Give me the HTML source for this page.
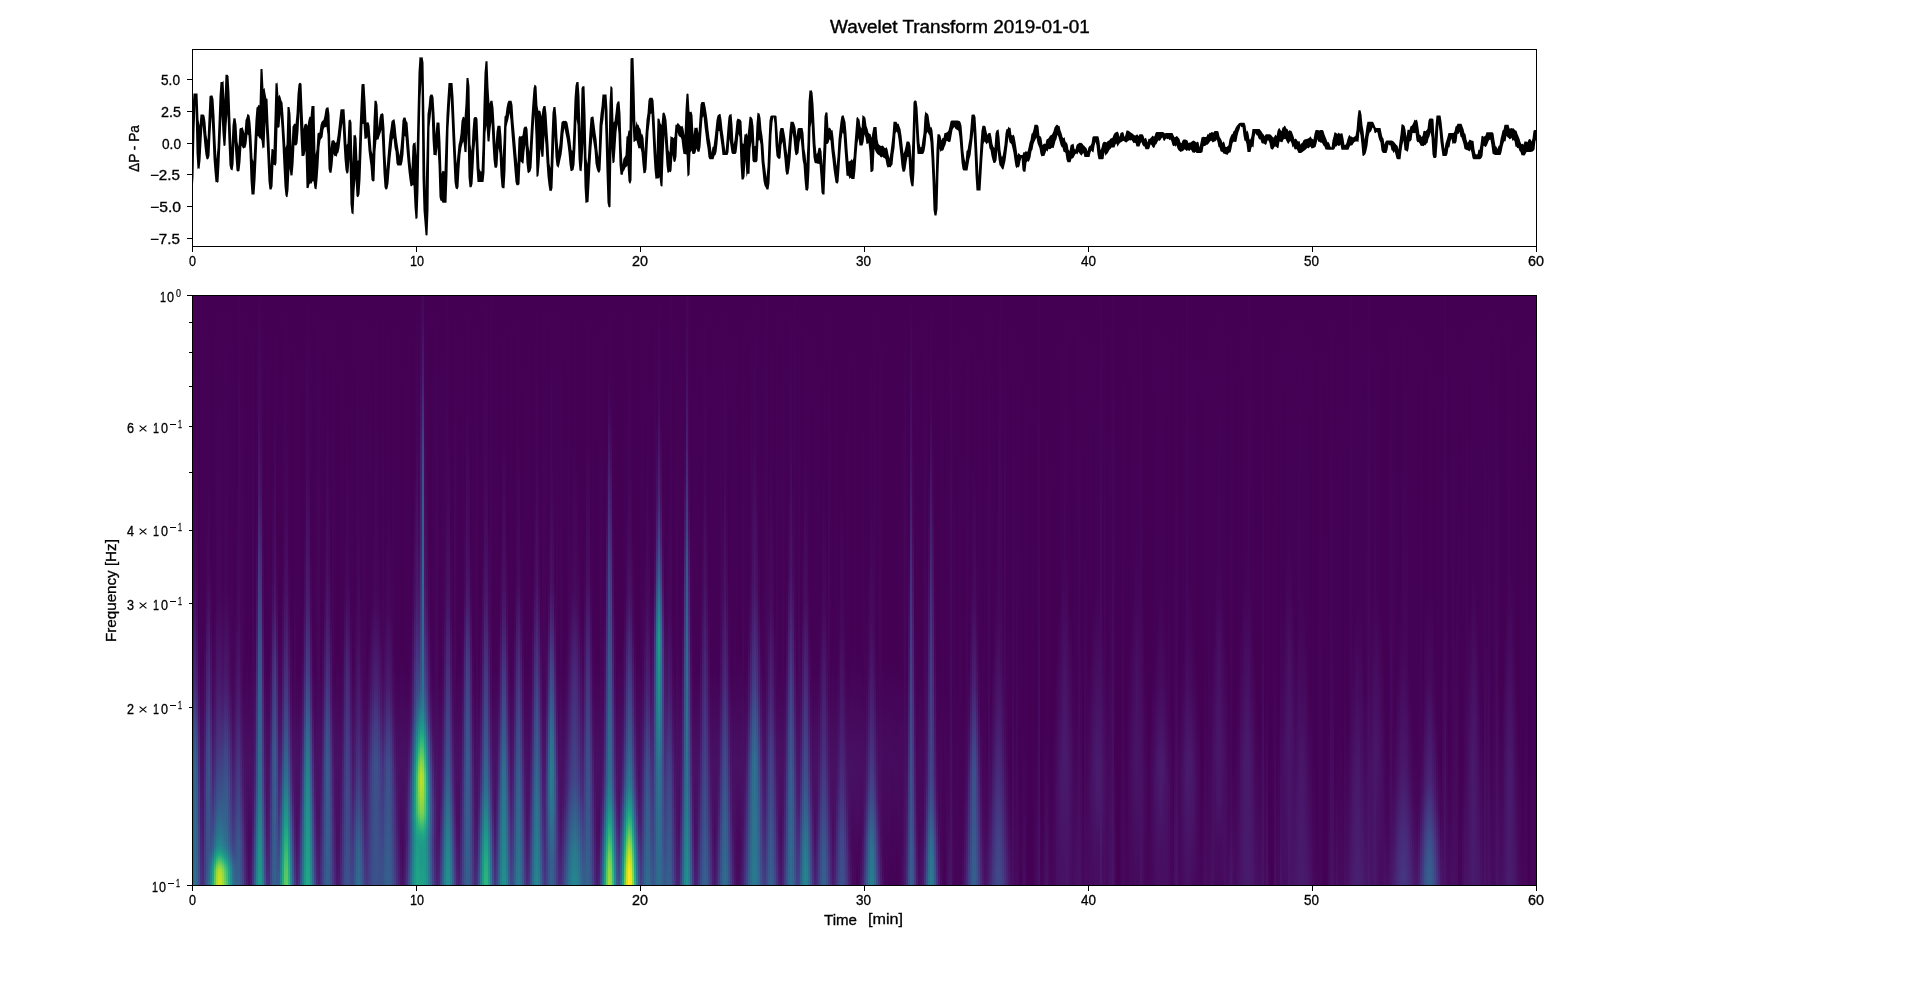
<!DOCTYPE html><html><head><meta charset="utf-8"><title>Wavelet Transform 2019-01-01</title><style>html,body{margin:0;padding:0;background:#fff;overflow:hidden;width:1920px;height:983px}svg{position:absolute;left:0;top:0;z-index:2;will-change:transform}#sc{position:absolute;left:192px;top:295px;width:1344px;height:590px;overflow:hidden;background:#440154;z-index:1}#sc i{position:absolute;top:0;width:2px;height:590px}</style></head><body><div id="sc"><i style="left:0px;background:linear-gradient(#440154 0px,#440256 257px,#46085c 327px,#481d6f 397px,#443983 436px,#3c4f8a 472px,#33628d 589px)"></i><i style="left:2px;background:linear-gradient(#440154 0px,#440256 145px,#460b5e 289px,#472a7a 385px,#3e4c8a 428px,#34608d 455px,#31688e 473px,#2e6e8e 589px)"></i><i style="left:4px;background:linear-gradient(#440256 0px,#450559 258px,#460b5e 319px,#482173 389px,#404588 438px,#375a8c 472px,#31678e 589px)"></i><i style="left:6px;background:linear-gradient(#440154 0px,#440154 311px,#450559 364px,#470e61 402px,#482677 449px,#453581 482px,#3c508b 589px)"></i><i style="left:8px;background:linear-gradient(#440154 0px,#440256 378px,#481d6f 520px,#46337f 589px)"></i><i style="left:10px;background:linear-gradient(#440154 0px,#440256 366px,#481d6f 543px,#472c7a 589px)"></i><i style="left:12px;background:linear-gradient(#440154 0px,#440256 329px,#470e61 398px,#472a7a 472px,#424186 589px)"></i><i style="left:14px;background:linear-gradient(#440154 0px,#440256 217px,#46085c 307px,#482677 397px,#414287 451px,#3e4c8a 497px,#3d4e8a 562px,#38598c 589px)"></i><i style="left:16px;background:linear-gradient(#440154 0px,#440256 176px,#46085c 287px,#472a7a 387px,#404588 437px,#3b528b 476px,#3a538b 553px,#2e6d8e 589px)"></i><i style="left:18px;background:linear-gradient(#440154 0px,#440154 266px,#46085c 337px,#481d6f 406px,#443983 465px,#3e4a89 542px,#3a548c 555px,#277e8e 576px,#24878e 589px)"></i><i style="left:20px;background:linear-gradient(#440154 0px,#440154 335px,#460b5e 409px,#472a7a 490px,#424186 527px,#375b8d 551px,#31668e 556px,#23898e 567px,#1e9d89 574px,#25ab82 589px)"></i><i style="left:22px;background:linear-gradient(#440154 0px,#440256 316px,#460b5e 377px,#48186a 423px,#46307e 478px,#3a548c 528px,#2c728e 552px,#1e9d89 564px,#26ad81 568px,#4ec36b 576px,#63cb5f 589px)"></i><i style="left:24px;background:linear-gradient(#440154 0px,#450559 299px,#48186a 390px,#46307e 452px,#39558c 512px,#2c718e 540px,#277e8e 549px,#23898e 554px,#1e9d89 559px,#21a685 561px,#35b779 565px,#6ccd5a 571px,#8bd646 575px,#95d840 577px,#a2da37 583px,#a8db34 589px)"></i><i style="left:26px;background:linear-gradient(#440154 0px,#450559 283px,#460b5e 326px,#481d6f 394px,#463480 448px,#39558c 503px,#2c728e 535px,#25838e 548px,#228b8d 552px,#1e9d89 557px,#21a685 559px,#2fb47c 562px,#5ec962 567px,#8bd646 571px,#addc30 575px,#b8de29 577px,#c5e021 582px,#cae11f 589px)"></i><i style="left:28px;background:linear-gradient(#440154 0px,#450559 298px,#48186a 389px,#463480 451px,#39558c 503px,#2c738e 537px,#25838e 549px,#1e9b8a 557px,#26ad81 561px,#3bbb75 564px,#8ed645 572px,#addc30 576px,#b8de29 579px,#c8e020 589px)"></i><i style="left:30px;background:linear-gradient(#440154 0px,#440256 291px,#470e61 365px,#481d6f 408px,#414287 466px,#33638d 523px,#277e8e 550px,#24878e 554px,#1f9f88 560px,#2ab07f 564px,#40bd72 567px,#65cb5e 571px,#84d44b 575px,#93d741 578px,#a5db36 589px)"></i><i style="left:32px;background:linear-gradient(#440154 0px,#450559 294px,#460b5e 331px,#481d6f 395px,#404588 457px,#34618d 520px,#2c718e 545px,#277f8e 554px,#1e9c89 562px,#26ad81 566px,#52c569 573px,#65cb5e 577px,#7ad151 589px)"></i><i style="left:34px;background:linear-gradient(#440154 0px,#450559 294px,#48186a 380px,#482677 412px,#404588 458px,#38588c 497px,#34608d 526px,#2e6e8e 549px,#2a788e 555px,#21908d 562px,#1fa287 567px,#3dbc74 576px,#4ec36b 589px)"></i><i style="left:36px;background:linear-gradient(#440154 0px,#440256 293px,#471164 382px,#481d6f 413px,#443983 458px,#3e4c8a 496px,#39558c 528px,#34618d 548px,#32658e 552px,#2c738e 558px,#1f968b 569px,#21a585 575px,#28ae80 589px)"></i><i style="left:38px;background:linear-gradient(#440154 0px,#440256 262px,#450559 352px,#460b5e 394px,#46307e 477px,#424186 522px,#3b518b 550px,#34608d 558px,#228b8d 575px,#1f948c 589px)"></i><i style="left:40px;background:linear-gradient(#440154 0px,#440256 261px,#450559 375px,#460b5e 419px,#481d6f 473px,#443b84 540px,#3f4889 555px,#2e6f8e 574px,#29798e 589px)"></i><i style="left:42px;background:linear-gradient(#440154 0px,#440154 300px,#46085c 379px,#471164 418px,#46307e 504px,#3e4a89 555px,#355e8d 573px,#31678e 589px)"></i><i style="left:44px;background:linear-gradient(#440154 0px,#440154 191px,#46085c 328px,#48186a 402px,#472f7d 463px,#3f4889 521px,#33638d 589px)"></i><i style="left:46px;background:linear-gradient(#440256 0px,#46085c 284px,#470e61 343px,#481d6f 410px,#443983 479px,#38588c 552px,#34618d 589px)"></i><i style="left:48px;background:linear-gradient(#440154 0px,#450559 306px,#460b5e 371px,#48186a 425px,#472f7d 489px,#3e4c8a 551px,#39568c 589px)"></i><i style="left:50px;background:linear-gradient(#440154 0px,#450559 391px,#481d6f 492px,#453581 549px,#414487 589px)"></i><i style="left:52px;background:linear-gradient(#440154 0px,#440256 380px,#471063 462px,#481467 515px,#472d7b 589px)"></i><i style="left:54px;background:linear-gradient(#440154 0px,#440154 358px,#471063 468px,#470e61 547px,#481b6d 589px)"></i><i style="left:56px;background:linear-gradient(#440154 0px,#440256 376px,#471063 467px,#46085c 542px,#470e61 589px)"></i><i style="left:58px;background:linear-gradient(#440154 0px,#440154 360px,#471063 468px,#460b5e 545px,#48186a 589px)"></i><i style="left:60px;background:linear-gradient(#440154 0px,#46085c 400px,#48186a 524px,#453781 589px)"></i><i style="left:62px;background:linear-gradient(#440154 0px,#440154 307px,#450559 368px,#482677 489px,#404588 544px,#355e8d 589px)"></i><i style="left:64px;background:linear-gradient(#440154 0px,#440256 225px,#460b5e 284px,#482979 374px,#443983 417px,#3a538b 493px,#287c8e 567px,#25848e 589px)"></i><i style="left:66px;background:linear-gradient(#440256 0px,#460b5e 125px,#48186a 194px,#453581 269px,#3a548c 350px,#34608d 388px,#2c718e 488px,#20928c 557px,#1e9c89 589px)"></i><i style="left:68px;background:linear-gradient(#440154 0px,#46085c 147px,#471164 195px,#482979 263px,#3e4c8a 348px,#375a8c 391px,#2c718e 499px,#20928c 564px,#1f998a 589px)"></i><i style="left:70px;background:linear-gradient(#440154 0px,#440256 213px,#460b5e 309px,#482878 396px,#443b84 455px,#3e4a89 493px,#277e8e 589px)"></i><i style="left:72px;background:linear-gradient(#440154 0px,#440154 323px,#450559 384px,#482173 493px,#433e85 546px,#39558c 589px)"></i><i style="left:74px;background:linear-gradient(#440154 0px,#440256 372px,#471063 464px,#471164 514px,#481d6f 552px,#46307e 589px)"></i><i style="left:76px;background:linear-gradient(#440154 0px,#440256 377px,#481d6f 536px,#472d7b 589px)"></i><i style="left:78px;background:linear-gradient(#440154 0px,#440154 264px,#450559 346px,#471164 397px,#472a7a 464px,#404688 589px)"></i><i style="left:80px;background:linear-gradient(#440154 0px,#440154 175px,#46085c 286px,#470e61 311px,#482979 374px,#3d4d8a 456px,#375b8d 589px)"></i><i style="left:82px;background:linear-gradient(#440154 0px,#440256 115px,#470e61 272px,#48186a 310px,#443983 374px,#375a8c 453px,#355e8d 472px,#34618d 589px)"></i><i style="left:84px;background:linear-gradient(#440154 0px,#440154 225px,#450559 293px,#470e61 330px,#443b84 439px,#3f4788 472px,#3b528b 559px,#375a8c 589px)"></i><i style="left:86px;background:linear-gradient(#440154 0px,#440154 329px,#450559 371px,#470e61 412px,#472f7d 511px,#404588 548px,#34618d 589px)"></i><i style="left:88px;background:linear-gradient(#440154 0px,#440154 335px,#46085c 395px,#481d6f 454px,#46307e 488px,#3a548c 529px,#2d718e 559px,#25858e 589px)"></i><i style="left:90px;background:linear-gradient(#440154 0px,#440256 277px,#470e61 354px,#482677 416px,#443b84 451px,#3a548c 485px,#1f948c 551px,#1fa287 568px,#28ae80 589px)"></i><i style="left:92px;background:linear-gradient(#440154 0px,#450559 212px,#470e61 292px,#481d6f 343px,#463480 395px,#3e4a89 432px,#2c718e 487px,#1e9d89 530px,#25ac82 544px,#3dbc74 562px,#50c46a 576px,#5ac864 589px)"></i><i style="left:94px;background:linear-gradient(#440154 0px,#440256 135px,#46085c 230px,#471164 296px,#481d6f 337px,#463480 390px,#39568c 445px,#2b748e 487px,#1e9d89 527px,#25ac82 541px,#3dbc74 558px,#54c568 574px,#60ca60 589px)"></i><i style="left:96px;background:linear-gradient(#440154 0px,#440256 260px,#46085c 315px,#471164 350px,#482677 406px,#443b84 441px,#375b8d 484px,#23898e 533px,#1e9b8a 550px,#22a884 565px,#32b67a 589px)"></i><i style="left:98px;background:linear-gradient(#440154 0px,#440154 321px,#460b5e 396px,#481c6e 441px,#453581 485px,#375b8d 527px,#26818e 568px,#218e8d 589px)"></i><i style="left:100px;background:linear-gradient(#440154 0px,#440154 360px,#450559 402px,#471365 467px,#481d6f 497px,#472f7d 524px,#404588 550px,#33638d 589px)"></i><i style="left:102px;background:linear-gradient(#440154 0px,#440256 285px,#46085c 410px,#471063 453px,#481467 517px,#481d6f 541px,#443b84 589px)"></i><i style="left:104px;background:linear-gradient(#440154 0px,#440256 379px,#471063 467px,#470e61 536px,#482475 589px)"></i><i style="left:106px;background:linear-gradient(#440154 0px,#440256 380px,#471063 465px,#471164 509px,#481d6f 549px,#46327e 589px)"></i><i style="left:108px;background:linear-gradient(#440154 0px,#440154 359px,#450559 400px,#482173 495px,#443983 541px,#3a538b 589px)"></i><i style="left:110px;background:linear-gradient(#440154 0px,#440154 303px,#46085c 366px,#481c6e 422px,#414287 485px,#375b8d 529px,#2a788e 589px)"></i><i style="left:112px;background:linear-gradient(#440154 0px,#440256 229px,#470e61 314px,#482677 379px,#443b84 414px,#3a548c 447px,#2d718e 493px,#1f988b 589px)"></i><i style="left:114px;background:linear-gradient(#440154 0px,#46085c 176px,#481d6f 300px,#414287 382px,#32648e 429px,#27808e 469px,#1f948c 518px,#1fa287 565px,#24aa83 589px)"></i><i style="left:116px;background:linear-gradient(#440154 0px,#450559 177px,#48186a 297px,#443b84 379px,#375b8d 425px,#26818e 481px,#1e9b8a 551px,#21a685 589px)"></i><i style="left:118px;background:linear-gradient(#440154 0px,#440256 261px,#460b5e 326px,#482173 389px,#3e4c8a 452px,#2e6f8e 512px,#218f8d 589px)"></i><i style="left:120px;background:linear-gradient(#440154 0px,#440154 326px,#450559 371px,#471164 415px,#472f7d 475px,#3f4889 518px,#2e6e8e 589px)"></i><i style="left:122px;background:linear-gradient(#440154 0px,#440256 379px,#460b5e 436px,#481d6f 505px,#463480 553px,#3e4989 589px)"></i><i style="left:124px;background:linear-gradient(#440154 0px,#450559 385px,#471063 456px,#471164 518px,#48186a 548px,#472a7a 589px)"></i><i style="left:126px;background:linear-gradient(#440154 0px,#46085c 396px,#471164 462px,#471164 523px,#481f70 589px)"></i><i style="left:128px;background:linear-gradient(#440154 0px,#440256 378px,#481d6f 526px,#472e7c 589px)"></i><i style="left:130px;background:linear-gradient(#440154 0px,#440256 334px,#470e61 401px,#472a7a 472px,#404588 589px)"></i><i style="left:132px;background:linear-gradient(#440154 0px,#440154 214px,#450559 287px,#460b5e 321px,#482173 390px,#443983 435px,#3f4788 465px,#39568c 589px)"></i><i style="left:134px;background:linear-gradient(#440154 0px,#440256 125px,#470e61 276px,#481d6f 332px,#463480 388px,#3e4c8a 430px,#365c8d 467px,#34608d 589px)"></i><i style="left:136px;background:linear-gradient(#440154 0px,#440256 171px,#460b5e 280px,#481467 318px,#472f7d 390px,#404588 428px,#38588c 472px,#355e8d 589px)"></i><i style="left:138px;background:linear-gradient(#440154 0px,#440154 261px,#450559 317px,#481d6f 405px,#443983 461px,#414487 504px,#3c508b 589px)"></i><i style="left:140px;background:linear-gradient(#440154 0px,#450559 381px,#460b5e 412px,#482173 479px,#443b84 589px)"></i><i style="left:142px;background:linear-gradient(#440154 0px,#440256 379px,#471063 459px,#481467 513px,#482878 589px)"></i><i style="left:144px;background:linear-gradient(#440154 0px,#440154 360px,#471063 468px,#470d60 546px,#48186a 589px)"></i><i style="left:146px;background:linear-gradient(#440154 0px,#440154 360px,#471063 467px,#470e61 544px,#481a6c 589px)"></i><i style="left:148px;background:linear-gradient(#440154 0px,#440256 379px,#48186a 521px,#482979 589px)"></i><i style="left:150px;background:linear-gradient(#440154 0px,#440256 338px,#460b5e 395px,#482677 492px,#443b84 589px)"></i><i style="left:152px;background:linear-gradient(#440154 0px,#440154 234px,#450559 305px,#453581 463px,#3e4c8a 589px)"></i><i style="left:154px;background:linear-gradient(#440154 0px,#440154 113px,#46085c 284px,#470e61 311px,#482677 371px,#443983 428px,#404688 475px,#3a538b 589px)"></i><i style="left:156px;background:linear-gradient(#440154 0px,#440154 181px,#450559 283px,#470e61 325px,#482173 376px,#443983 449px,#414487 495px,#3c508b 589px)"></i><i style="left:158px;background:linear-gradient(#440154 0px,#440256 315px,#471164 391px,#472a7a 471px,#3f4788 589px)"></i><i style="left:160px;background:linear-gradient(#440154 0px,#440256 370px,#481d6f 493px,#443983 554px,#3f4889 589px)"></i><i style="left:162px;background:linear-gradient(#440154 0px,#440154 311px,#46085c 388px,#482677 488px,#404588 540px,#375a8c 589px)"></i><i style="left:164px;background:linear-gradient(#440154 0px,#450559 301px,#460b5e 349px,#481d6f 423px,#463480 481px,#365d8d 550px,#306a8e 589px)"></i><i style="left:166px;background:linear-gradient(#440154 0px,#440256 211px,#460b5e 334px,#481d6f 411px,#463480 469px,#32648e 555px,#2e6e8e 589px)"></i><i style="left:168px;background:linear-gradient(#440154 0px,#440256 299px,#460b5e 371px,#48186a 422px,#472f7d 483px,#38588c 552px,#32648e 589px)"></i><i style="left:170px;background:linear-gradient(#440154 0px,#450457 338px,#46085c 400px,#482173 493px,#443983 536px,#3e4c8a 571px,#3b518b 589px)"></i><i style="left:172px;background:linear-gradient(#440154 0px,#450457 319px,#46085c 413px,#481d6f 516px,#433d84 589px)"></i><i style="left:174px;background:linear-gradient(#440154 0px,#440256 373px,#460b5e 422px,#482173 498px,#453781 589px)"></i><i style="left:176px;background:linear-gradient(#440154 0px,#440256 345px,#460b5e 398px,#472a7a 472px,#433e85 589px)"></i><i style="left:178px;background:linear-gradient(#440154 0px,#440256 312px,#471164 388px,#472a7a 437px,#433d84 480px,#3f4788 589px)"></i><i style="left:180px;background:linear-gradient(#440154 0px,#440154 227px,#450559 309px,#481d6f 394px,#443983 438px,#3f4889 469px,#3c4f8a 589px)"></i><i style="left:182px;background:linear-gradient(#440154 0px,#450457 237px,#46085c 307px,#482173 388px,#443b84 429px,#3c508b 467px,#3b528b 589px)"></i><i style="left:184px;background:linear-gradient(#440154 0px,#450559 291px,#460b5e 322px,#482173 388px,#443b84 429px,#3c508b 467px,#3a538b 589px)"></i><i style="left:186px;background:linear-gradient(#440154 0px,#440154 227px,#450559 309px,#481d6f 394px,#443983 438px,#3f4889 469px,#3b518b 589px)"></i><i style="left:188px;background:linear-gradient(#440154 0px,#440154 289px,#450559 336px,#48186a 405px,#443983 465px,#3c508b 589px)"></i><i style="left:190px;background:linear-gradient(#440154 0px,#450457 297px,#46085c 372px,#481467 413px,#453581 475px,#3a538b 589px)"></i><i style="left:192px;background:linear-gradient(#440154 0px,#440154 252px,#450559 331px,#481467 396px,#443b84 463px,#3e4c8a 513px,#375b8d 589px)"></i><i style="left:194px;background:linear-gradient(#440154 0px,#440256 238px,#46085c 320px,#481c6e 394px,#443983 437px,#3d4e8a 473px,#34608d 589px)"></i><i style="left:196px;background:linear-gradient(#440154 0px,#440256 212px,#46085c 313px,#481d6f 393px,#433e85 440px,#3b528b 479px,#34618d 589px)"></i><i style="left:198px;background:linear-gradient(#440154 0px,#440154 235px,#450559 317px,#48186a 396px,#46307e 435px,#404588 470px,#375b8d 589px)"></i><i style="left:200px;background:linear-gradient(#440154 0px,#450457 324px,#46085c 371px,#470e61 398px,#453581 478px,#3c508b 589px)"></i><i style="left:202px;background:linear-gradient(#440154 0px,#440256 370px,#460b5e 418px,#482677 493px,#424086 589px)"></i><i style="left:204px;background:linear-gradient(#440154 0px,#440256 379px,#481d6f 527px,#46307e 589px)"></i><i style="left:206px;background:linear-gradient(#440154 0px,#440256 380px,#471063 465px,#471164 529px,#482173 589px)"></i><i style="left:208px;background:linear-gradient(#440154 0px,#440154 360px,#471063 468px,#460b5e 547px,#481668 589px)"></i><i style="left:210px;background:linear-gradient(#440154 0px,#440154 360px,#471063 468px,#460a5d 559px,#471164 589px)"></i><i style="left:212px;background:linear-gradient(#440154 0px,#440256 377px,#471063 465px,#471164 547px,#481f70 589px)"></i><i style="left:214px;background:linear-gradient(#440154 0px,#440256 380px,#470e61 458px,#481d6f 519px,#481d6f 540px,#46327e 589px)"></i><i style="left:216px;background:linear-gradient(#440154 0px,#440256 379px,#470e61 439px,#472a7a 495px,#463480 519px,#453581 543px,#3d4d8a 589px)"></i><i style="left:218px;background:linear-gradient(#440154 0px,#440154 325px,#450559 370px,#470e61 408px,#48186a 430px,#482979 454px,#404588 487px,#3a548c 518px,#39568c 549px,#2f6b8e 589px)"></i><i style="left:220px;background:linear-gradient(#440154 0px,#440154 251px,#46085c 325px,#48186a 380px,#472a7a 418px,#3e4c8a 453px,#306a8e 482px,#2d718e 494px,#29798e 519px,#2b748e 546px,#24868e 589px)"></i><i style="left:222px;background:linear-gradient(#440154 0px,#440256 175px,#471164 300px,#482677 358px,#424186 409px,#32648e 442px,#228d8d 474px,#1f998a 490px,#1e9d89 519px,#20928c 533px,#218e8d 548px,#1e9b8a 589px)"></i><i style="left:224px;background:linear-gradient(#440154 0px,#450559 144px,#48186a 293px,#472f7d 350px,#3e4a89 397px,#2f6b8e 426px,#1e9d89 457px,#25ac82 467px,#40bd72 483px,#44bf70 502px,#3bbb75 517px,#25ac82 530px,#1e9c89 545px,#21a585 589px)"></i><i style="left:226px;background:linear-gradient(#440154 0px,#450559 193px,#470e61 263px,#481d6f 319px,#46307e 357px,#3e4a89 392px,#39558c 401px,#23898e 432px,#1fa287 444px,#38b977 457px,#73d056 473px,#84d44b 479px,#8bd646 484px,#8bd646 492px,#7fd34e 503px,#63cb5f 518px,#31b57b 531px,#23a983 537px,#1f9f88 544px,#1e9c89 552px,#21a585 589px)"></i><i style="left:228px;background:linear-gradient(#440256 0px,#46085c 79px,#481a6c 163px,#482173 242px,#414287 340px,#39568c 387px,#2c718e 410px,#1e9c89 434px,#23a983 440px,#35b779 447px,#69cd5b 461px,#86d549 467px,#a8db34 476px,#b5de2b 481px,#b8de29 488px,#a8db34 500px,#7fd34e 517px,#5ac864 525px,#35b779 532px,#23a983 538px,#1fa187 542px,#1f9a8a 552px,#1f9a8a 568px,#1fa287 589px)"></i><i style="left:230px;background:linear-gradient(#46075a 0px,#460b5e 25px,#482173 91px,#404588 150px,#38588c 198px,#30698e 276px,#2f6b8e 358px,#2c718e 397px,#25858e 419px,#1e9d89 434px,#22a884 440px,#2fb47c 446px,#4ec36b 456px,#73d056 465px,#93d741 473px,#a5db36 479px,#aadc32 483px,#aadc32 491px,#9dd93b 501px,#7ad151 517px,#6ccd5a 521px,#35b779 532px,#22a884 539px,#1e9d89 548px,#1f9a8a 558px,#1fa188 589px)"></i><i style="left:232px;background:linear-gradient(#440154 0px,#440256 89px,#460b5e 211px,#48186a 289px,#482677 328px,#3d4e8a 394px,#2c728e 423px,#1e9d89 447px,#22a884 454px,#2eb37c 461px,#63cb5f 481px,#67cc5c 497px,#5ec962 507px,#50c46a 518px,#48c16e 521px,#29af7f 531px,#1fa187 539px,#1f9a8a 546px,#1f978b 557px,#1e9d89 589px)"></i><i style="left:234px;background:linear-gradient(#440154 0px,#440256 175px,#470e61 288px,#481d6f 337px,#443a83 394px,#39568c 422px,#1f948c 466px,#23a983 486px,#23a983 517px,#1e9d89 529px,#20928c 537px,#228b8d 548px,#20928c 589px)"></i><i style="left:236px;background:linear-gradient(#440154 0px,#440154 251px,#46085c 325px,#482173 398px,#46307e 418px,#3a548c 449px,#2d718e 473px,#27808e 494px,#25838e 520px,#2c738e 544px,#277e8e 589px)"></i><i style="left:238px;background:linear-gradient(#440154 0px,#440154 325px,#450559 369px,#460b5e 395px,#481c6e 428px,#424086 466px,#3c508b 483px,#375a8c 501px,#355e8d 524px,#39558c 549px,#32648e 589px)"></i><i style="left:240px;background:linear-gradient(#440154 0px,#440256 378px,#470e61 432px,#453581 498px,#433d84 518px,#443983 553px,#3f4889 589px)"></i><i style="left:242px;background:linear-gradient(#440154 0px,#450559 389px,#471164 462px,#482475 518px,#482173 548px,#46307e 589px)"></i><i style="left:244px;background:linear-gradient(#440154 0px,#46085c 394px,#471365 471px,#48186a 560px,#482173 589px)"></i><i style="left:246px;background:linear-gradient(#440154 0px,#440256 380px,#471063 467px,#471164 533px,#482878 589px)"></i><i style="left:248px;background:linear-gradient(#440154 0px,#440256 379px,#48186a 505px,#482979 542px,#414287 589px)"></i><i style="left:250px;background:linear-gradient(#440154 0px,#450457 338px,#46085c 386px,#482677 482px,#404588 534px,#33638d 589px)"></i><i style="left:252px;background:linear-gradient(#440154 0px,#450457 261px,#46085c 318px,#481d6f 393px,#463480 448px,#3e4a89 493px,#375b8d 518px,#2d708e 552px,#277f8e 589px)"></i><i style="left:254px;background:linear-gradient(#440256 0px,#450559 193px,#471164 299px,#482979 366px,#404588 432px,#39568c 473px,#26828e 549px,#21908d 589px)"></i><i style="left:256px;background:linear-gradient(#440154 0px,#440256 146px,#471164 300px,#482979 366px,#404588 432px,#39568c 473px,#26828e 549px,#21908d 589px)"></i><i style="left:258px;background:linear-gradient(#440154 0px,#440154 239px,#46085c 321px,#481d6f 393px,#463480 448px,#3e4a89 493px,#375b8d 518px,#2d708e 552px,#277f8e 589px)"></i><i style="left:260px;background:linear-gradient(#440154 0px,#440154 324px,#450559 373px,#471164 424px,#482677 482px,#404588 534px,#33638d 589px)"></i><i style="left:262px;background:linear-gradient(#440154 0px,#46085c 414px,#48186a 504px,#482979 542px,#414287 589px)"></i><i style="left:264px;background:linear-gradient(#440154 0px,#440256 380px,#471063 468px,#470e61 522px,#482677 589px)"></i><i style="left:266px;background:linear-gradient(#440154 0px,#440154 360px,#471063 467px,#470e61 534px,#481d6f 589px)"></i><i style="left:268px;background:linear-gradient(#440154 0px,#440256 377px,#481d6f 530px,#472d7b 589px)"></i><i style="left:270px;background:linear-gradient(#440154 0px,#440256 326px,#470e61 390px,#472a7a 477px,#414487 589px)"></i><i style="left:272px;background:linear-gradient(#440154 0px,#440154 195px,#46085c 296px,#482878 378px,#443b84 430px,#3e4c8a 494px,#39568c 589px)"></i><i style="left:274px;background:linear-gradient(#440154 0px,#440256 110px,#471164 268px,#481d6f 310px,#443983 358px,#38588c 443px,#365d8d 472px,#34608d 589px)"></i><i style="left:276px;background:linear-gradient(#440154 0px,#440256 146px,#460b5e 252px,#48186a 307px,#443983 370px,#38588c 463px,#355e8d 589px)"></i><i style="left:278px;background:linear-gradient(#440154 0px,#440154 244px,#450559 301px,#482979 411px,#443983 452px,#414487 496px,#3b518b 589px)"></i><i style="left:280px;background:linear-gradient(#440154 0px,#440256 346px,#460b5e 400px,#482576 489px,#433d84 589px)"></i><i style="left:282px;background:linear-gradient(#440154 0px,#440256 379px,#48186a 532px,#482979 589px)"></i><i style="left:284px;background:linear-gradient(#440154 0px,#450559 380px,#471063 459px,#471164 520px,#481d6f 553px,#46327e 589px)"></i><i style="left:286px;background:linear-gradient(#440154 0px,#440154 359px,#450559 403px,#481c6e 506px,#443983 550px,#3a538b 589px)"></i><i style="left:288px;background:linear-gradient(#440154 0px,#440154 320px,#46085c 382px,#481d6f 452px,#46307e 491px,#3a548c 536px,#2e6f8e 568px,#297a8e 589px)"></i><i style="left:290px;background:linear-gradient(#440154 0px,#440256 248px,#470e61 334px,#482979 409px,#414287 463px,#39568c 496px,#32648e 511px,#21918c 563px,#1f9e89 589px)"></i><i style="left:292px;background:linear-gradient(#440154 0px,#450559 176px,#470e61 259px,#48186a 305px,#453581 374px,#375b8d 460px,#2c718e 500px,#1e9b8a 545px,#26ad81 569px,#2fb47c 589px)"></i><i style="left:294px;background:linear-gradient(#440154 0px,#450559 176px,#470e61 259px,#48186a 305px,#453581 374px,#375b8d 460px,#2c718e 500px,#1e9b8a 545px,#26ad81 569px,#2fb47c 589px)"></i><i style="left:296px;background:linear-gradient(#440154 0px,#440154 226px,#460b5e 323px,#482979 409px,#414287 463px,#32648e 512px,#21918c 563px,#1f9e89 589px)"></i><i style="left:298px;background:linear-gradient(#440256 0px,#450559 315px,#460b5e 391px,#481d6f 451px,#46307e 491px,#3a548c 536px,#2e6f8e 568px,#297a8e 589px)"></i><i style="left:300px;background:linear-gradient(#440154 0px,#440154 359px,#450559 403px,#481c6e 506px,#443983 550px,#3a548c 589px)"></i><i style="left:302px;background:linear-gradient(#440154 0px,#440256 375px,#471063 464px,#471164 514px,#481d6f 547px,#453781 589px)"></i><i style="left:304px;background:linear-gradient(#440154 0px,#440256 376px,#48186a 492px,#482677 531px,#414487 589px)"></i><i style="left:306px;background:linear-gradient(#440154 0px,#440154 325px,#450559 367px,#470e61 405px,#482979 468px,#404588 523px,#33638d 589px)"></i><i style="left:308px;background:linear-gradient(#440154 0px,#440154 239px,#46085c 317px,#482677 400px,#404588 451px,#355f8d 501px,#277f8e 589px)"></i><i style="left:310px;background:linear-gradient(#440154 0px,#440256 146px,#470e61 286px,#481d6f 330px,#46307e 366px,#3e4c8a 415px,#2d708e 480px,#21908d 589px)"></i><i style="left:312px;background:linear-gradient(#440154 0px,#440256 146px,#470e61 286px,#481d6f 330px,#46307e 366px,#3e4c8a 415px,#2d708e 480px,#21908d 589px)"></i><i style="left:314px;background:linear-gradient(#440154 0px,#440154 239px,#46085c 317px,#482677 400px,#404588 451px,#355f8d 501px,#277f8e 589px)"></i><i style="left:316px;background:linear-gradient(#440154 0px,#440154 325px,#450559 367px,#470e61 405px,#482979 468px,#404588 523px,#33638d 589px)"></i><i style="left:318px;background:linear-gradient(#440154 0px,#440256 379px,#48186a 489px,#472f7d 543px,#3f4889 589px)"></i><i style="left:320px;background:linear-gradient(#440154 0px,#440154 325px,#450559 388px,#481d6f 478px,#463480 536px,#3d4d8a 589px)"></i><i style="left:322px;background:linear-gradient(#440154 0px,#440154 287px,#450559 330px,#481d6f 412px,#443983 474px,#32648e 589px)"></i><i style="left:324px;background:linear-gradient(#440154 0px,#450457 225px,#46085c 291px,#482979 379px,#404588 439px,#34618d 511px,#2b758e 589px)"></i><i style="left:326px;background:linear-gradient(#440154 0px,#440256 149px,#460b5e 289px,#482979 361px,#404588 421px,#33628d 493px,#297a8e 589px)"></i><i style="left:328px;background:linear-gradient(#440154 0px,#440154 213px,#450559 297px,#470e61 333px,#482979 402px,#414287 455px,#38588c 508px,#2d708e 589px)"></i><i style="left:330px;background:linear-gradient(#440154 0px,#440154 218px,#450559 353px,#471164 404px,#482979 467px,#404588 532px,#375a8c 589px)"></i><i style="left:332px;background:linear-gradient(#440154 0px,#440256 371px,#46085c 417px,#481d6f 506px,#423f85 589px)"></i><i style="left:334px;background:linear-gradient(#440154 0px,#440256 380px,#471063 466px,#471164 524px,#482979 589px)"></i><i style="left:336px;background:linear-gradient(#440154 0px,#440256 372px,#481467 510px,#481d6f 542px,#46327e 589px)"></i><i style="left:338px;background:linear-gradient(#440154 0px,#440154 337px,#450559 389px,#471164 438px,#482979 506px,#443983 540px,#3c4f8a 589px)"></i><i style="left:340px;background:linear-gradient(#440154 0px,#440154 281px,#450559 327px,#481d6f 408px,#443983 467px,#3a548c 528px,#2f6b8e 589px)"></i><i style="left:342px;background:linear-gradient(#440154 0px,#440256 199px,#460b5e 294px,#482979 368px,#404588 425px,#31668e 501px,#27808e 589px)"></i><i style="left:344px;background:linear-gradient(#440154 0px,#450559 171px,#471164 288px,#482979 345px,#3e4c8a 413px,#2d718e 504px,#24868e 589px)"></i><i style="left:346px;background:linear-gradient(#440154 0px,#440154 188px,#46085c 292px,#482979 380px,#404588 436px,#32648e 508px,#287c8e 589px)"></i><i style="left:348px;background:linear-gradient(#440154 0px,#440154 297px,#450559 340px,#481d6f 422px,#443983 481px,#31668e 589px)"></i><i style="left:350px;background:linear-gradient(#440154 0px,#450559 393px,#481d6f 488px,#463480 544px,#3e4989 589px)"></i><i style="left:352px;background:linear-gradient(#440154 0px,#450457 312px,#46085c 405px,#482173 504px,#472a7a 554px,#453882 589px)"></i><i style="left:354px;background:linear-gradient(#440154 0px,#440256 327px,#471164 391px,#472a7a 444px,#433d84 485px,#424186 513px,#423f85 570px,#414487 589px)"></i><i style="left:356px;background:linear-gradient(#440154 0px,#440154 217px,#450559 290px,#470e61 322px,#472f7d 386px,#3e4c8a 430px,#34618d 471px,#32648e 505px,#3a548c 562px,#39568c 589px)"></i><i style="left:358px;background:linear-gradient(#440154 0px,#450559 184px,#471164 292px,#482979 333px,#404588 371px,#2e6e8e 437px,#287c8e 475px,#297a8e 500px,#34608d 564px,#34608d 589px)"></i><i style="left:360px;background:linear-gradient(#440154 0px,#440256 165px,#470e61 292px,#482979 340px,#404588 381px,#2e6d8e 446px,#2a778e 477px,#2d718e 517px,#365d8d 568px,#355e8d 589px)"></i><i style="left:362px;background:linear-gradient(#440154 0px,#440256 285px,#46085c 320px,#481467 351px,#443983 421px,#38588c 479px,#375a8c 510px,#3d4e8a 570px,#3b518b 589px)"></i><i style="left:364px;background:linear-gradient(#440154 0px,#450559 365px,#471164 411px,#46327e 487px,#433d84 589px)"></i><i style="left:366px;background:linear-gradient(#440154 0px,#440256 360px,#46075a 410px,#482173 559px,#472c7a 589px)"></i><i style="left:368px;background:linear-gradient(#440154 0px,#450559 380px,#471063 457px,#471164 517px,#48186a 543px,#472d7b 589px)"></i><i style="left:370px;background:linear-gradient(#440154 0px,#440256 379px,#481467 508px,#443b84 589px)"></i><i style="left:372px;background:linear-gradient(#440154 0px,#440154 356px,#450559 399px,#481d6f 506px,#443983 551px,#3d4e8a 589px)"></i><i style="left:374px;background:linear-gradient(#440154 0px,#440256 339px,#46085c 388px,#482677 497px,#3f4889 546px,#34608d 589px)"></i><i style="left:376px;background:linear-gradient(#440154 0px,#450559 317px,#460b5e 359px,#472f7d 486px,#3a548c 539px,#32648e 561px,#2d708e 589px)"></i><i style="left:378px;background:linear-gradient(#440154 0px,#440154 227px,#46085c 317px,#482173 397px,#443b84 484px,#2e6f8e 556px,#287c8e 589px)"></i><i style="left:380px;background:linear-gradient(#440154 0px,#440154 146px,#46085c 294px,#482878 384px,#414287 479px,#39558c 511px,#297a8e 560px,#25838e 589px)"></i><i style="left:382px;background:linear-gradient(#440154 0px,#440256 164px,#460b5e 300px,#472a7a 381px,#3f4889 486px,#297b8e 557px,#24868e 589px)"></i><i style="left:384px;background:linear-gradient(#440154 0px,#440154 162px,#46085c 298px,#482677 385px,#414287 483px,#2a788e 559px,#26828e 589px)"></i><i style="left:386px;background:linear-gradient(#440154 0px,#440154 242px,#46085c 323px,#482979 438px,#443a83 487px,#3a548c 524px,#2e6f8e 560px,#297a8e 589px)"></i><i style="left:388px;background:linear-gradient(#440154 0px,#440154 298px,#450559 341px,#472a7a 480px,#453581 502px,#3e4c8a 531px,#33628d 562px,#2e6e8e 589px)"></i><i style="left:390px;background:linear-gradient(#440154 0px,#440154 323px,#450559 367px,#471164 419px,#472a7a 491px,#3f4889 541px,#33628d 589px)"></i><i style="left:392px;background:linear-gradient(#440154 0px,#440154 239px,#450559 303px,#481d6f 394px,#453581 458px,#3e4a89 532px,#34608d 589px)"></i><i style="left:394px;background:linear-gradient(#440154 0px,#440256 146px,#470e61 286px,#482979 362px,#404588 439px,#33638d 589px)"></i><i style="left:396px;background:linear-gradient(#440154 0px,#440256 146px,#470e61 286px,#482979 362px,#404588 439px,#3b518b 484px,#34618d 589px)"></i><i style="left:398px;background:linear-gradient(#440154 0px,#440154 238px,#450559 303px,#481d6f 394px,#443983 469px,#3a548c 589px)"></i><i style="left:400px;background:linear-gradient(#440154 0px,#440256 344px,#460b5e 404px,#482475 486px,#424086 589px)"></i><i style="left:402px;background:linear-gradient(#440154 0px,#440256 379px,#48186a 527px,#472a7a 589px)"></i><i style="left:404px;background:linear-gradient(#440154 0px,#440154 359px,#471063 468px,#470d60 541px,#481a6c 589px)"></i><i style="left:406px;background:linear-gradient(#440154 0px,#440256 379px,#471063 468px,#460b5e 529px,#470e61 545px,#482475 589px)"></i><i style="left:408px;background:linear-gradient(#440154 0px,#450559 356px,#471164 503px,#481d6f 535px,#46307e 560px,#404688 589px)"></i><i style="left:410px;background:linear-gradient(#440154 0px,#440256 314px,#46085c 411px,#48186a 478px,#482173 500px,#472f7d 519px,#3e4c8a 546px,#33638d 569px,#2c718e 589px)"></i><i style="left:412px;background:linear-gradient(#440154 0px,#440154 266px,#450559 316px,#471164 375px,#482677 442px,#443b84 489px,#3b528b 514px,#32648e 528px,#218e8d 563px,#1fa287 589px)"></i><i style="left:414px;background:linear-gradient(#440154 0px,#440154 152px,#46085c 217px,#482979 331px,#443983 376px,#39568c 468px,#34608d 489px,#2b748e 510px,#1f958b 534px,#1fa287 543px,#29af7f 553px,#48c16e 569px,#56c667 577px,#63cb5f 589px)"></i><i style="left:416px;background:linear-gradient(#440154 0px,#440256 78px,#46085c 117px,#482979 210px,#404588 281px,#2c718e 481px,#25848e 505px,#1e9c89 522px,#22a884 530px,#2fb47c 538px,#73d056 562px,#90d743 574px,#a2da37 589px)"></i><i style="left:418px;background:linear-gradient(#440154 0px,#440256 110px,#470e61 167px,#443983 289px,#3a548c 386px,#2f6c8e 481px,#297b8e 502px,#1e9d89 527px,#28ae80 539px,#40bd72 550px,#63cb5f 562px,#84d44b 577px,#90d743 589px)"></i><i style="left:420px;background:linear-gradient(#440154 0px,#440256 222px,#460b5e 281px,#481d6f 349px,#46307e 402px,#3c508b 486px,#32658e 509px,#23898e 537px,#1e9c89 551px,#22a884 561px,#32b67a 575px,#40bd72 589px)"></i><i style="left:422px;background:linear-gradient(#440154 0px,#440154 305px,#460b5e 389px,#481d6f 451px,#46307e 495px,#375b8d 536px,#26828e 571px,#218f8d 589px)"></i><i style="left:424px;background:linear-gradient(#440154 0px,#440154 360px,#450559 403px,#48186a 501px,#472a7a 529px,#404588 556px,#34618d 589px)"></i><i style="left:426px;background:linear-gradient(#440154 0px,#440154 360px,#471063 467px,#471063 501px,#481467 517px,#482173 538px,#443b84 566px,#3c508b 589px)"></i><i style="left:428px;background:linear-gradient(#440154 0px,#440154 360px,#471164 470px,#48186a 494px,#482576 514px,#3e4c8a 550px,#2c728e 589px)"></i><i style="left:430px;background:linear-gradient(#440154 0px,#440154 340px,#460b5e 410px,#481d6f 462px,#46307e 494px,#424186 510px,#32658e 536px,#218e8d 568px,#1fa187 589px)"></i><i style="left:432px;background:linear-gradient(#440154 0px,#440256 303px,#471164 373px,#482677 428px,#3f4889 484px,#31678e 510px,#23898e 532px,#1e9d89 544px,#29af7f 556px,#52c569 574px,#6ccd5a 589px)"></i><i style="left:434px;background:linear-gradient(#440154 0px,#440256 216px,#460b5e 302px,#472f7d 389px,#39568c 463px,#2c728e 496px,#1e9d89 522px,#22a884 528px,#2eb37c 534px,#4ac16d 543px,#73d056 553px,#b0dd2f 569px,#c8e020 578px,#d8e219 589px)"></i><i style="left:436px;background:linear-gradient(#440154 0px,#450559 174px,#460b5e 249px,#481467 300px,#443983 375px,#32658e 462px,#297a8e 490px,#1e9c89 512px,#26ad81 521px,#35b779 527px,#5cc863 537px,#7fd34e 544px,#b8de29 556px,#d5e21a 563px,#e7e419 569px,#f4e61e 573px,#fde725 578px,#fde725 589px)"></i><i style="left:438px;background:linear-gradient(#440154 0px,#440256 169px,#46085c 256px,#471164 305px,#443983 390px,#355f8d 463px,#2c728e 489px,#1e9d89 517px,#22a884 523px,#3bbb75 533px,#5ec962 542px,#7fd34e 549px,#b0dd2f 560px,#cde11d 568px,#e5e419 577px,#f4e61e 589px)"></i><i style="left:440px;background:linear-gradient(#440154 0px,#440154 243px,#460b5e 332px,#482979 410px,#3e4989 468px,#33638d 497px,#23898e 522px,#1e9c89 533px,#2ab07f 545px,#3bbb75 552px,#6ece58 568px,#8ed645 581px,#9bd93c 589px)"></i><i style="left:442px;background:linear-gradient(#440154 0px,#440154 318px,#450559 360px,#471164 409px,#482677 460px,#443b84 492px,#32648e 524px,#1e9b8a 562px,#21a685 572px,#31b57b 589px)"></i><i style="left:444px;background:linear-gradient(#440154 0px,#440154 359px,#460b5e 431px,#48186a 477px,#482576 501px,#463480 517px,#3a548c 543px,#2e6f8e 565px,#25848e 589px)"></i><i style="left:446px;background:linear-gradient(#440154 0px,#440154 360px,#471164 494px,#482173 528px,#404588 565px,#375a8c 589px)"></i><i style="left:448px;background:linear-gradient(#440154 0px,#440256 376px,#481d6f 522px,#424186 589px)"></i><i style="left:450px;background:linear-gradient(#440154 0px,#440256 280px,#46085c 391px,#46307e 506px,#3c4f8a 589px)"></i><i style="left:452px;background:linear-gradient(#440154 0px,#440154 246px,#46085c 337px,#481d6f 411px,#424086 478px,#33638d 589px)"></i><i style="left:454px;background:linear-gradient(#440154 0px,#440256 176px,#460b5e 308px,#482173 389px,#404588 453px,#38598c 501px,#2e6d8e 589px)"></i><i style="left:456px;background:linear-gradient(#440154 0px,#440256 218px,#460b5e 321px,#482173 398px,#404588 462px,#38598c 514px,#2f6b8e 589px)"></i><i style="left:458px;background:linear-gradient(#440154 0px,#440154 287px,#46085c 361px,#481467 406px,#443983 484px,#355f8d 589px)"></i><i style="left:460px;background:linear-gradient(#440154 0px,#440256 299px,#482979 457px,#39558c 589px)"></i><i style="left:462px;background:linear-gradient(#440154 0px,#450559 243px,#471164 284px,#453581 343px,#414487 384px,#3e4c8a 433px,#39558c 551px,#365d8d 589px)"></i><i style="left:464px;background:linear-gradient(#440154 0px,#440256 127px,#471164 205px,#482677 248px,#404588 286px,#2d718e 331px,#297a8e 352px,#29798e 402px,#30698e 482px,#30698e 589px)"></i><i style="left:466px;background:linear-gradient(#440154 0px,#46085c 110px,#482173 195px,#453882 232px,#3a548c 267px,#23898e 320px,#1e9c89 341px,#20928c 397px,#2b748e 477px,#2f6c8e 561px,#2e6e8e 589px)"></i><i style="left:468px;background:linear-gradient(#440154 0px,#440256 128px,#471164 205px,#482677 248px,#404588 286px,#2d718e 331px,#297a8e 352px,#29798e 402px,#30698e 482px,#30698e 589px)"></i><i style="left:470px;background:linear-gradient(#440154 0px,#440154 204px,#450559 245px,#471164 284px,#453581 343px,#414487 384px,#39558c 543px,#355f8d 589px)"></i><i style="left:472px;background:linear-gradient(#440154 0px,#440256 299px,#482979 447px,#404588 526px,#38598c 589px)"></i><i style="left:474px;background:linear-gradient(#440154 0px,#440154 232px,#450559 317px,#48186a 399px,#443983 468px,#355e8d 589px)"></i><i style="left:476px;background:linear-gradient(#440154 0px,#440256 212px,#46085c 311px,#481d6f 393px,#414287 469px,#38588c 539px,#34618d 589px)"></i><i style="left:478px;background:linear-gradient(#440256 0px,#450457 228px,#46085c 328px,#48186a 398px,#443983 469px,#3e4c8a 524px,#375b8d 589px)"></i><i style="left:480px;background:linear-gradient(#440154 0px,#440154 319px,#450559 371px,#470e61 413px,#472a7a 487px,#3e4a89 589px)"></i><i style="left:482px;background:linear-gradient(#440154 0px,#440256 378px,#48186a 498px,#453581 589px)"></i><i style="left:484px;background:linear-gradient(#440154 0px,#450559 360px,#471063 452px,#471365 530px,#482173 589px)"></i><i style="left:486px;background:linear-gradient(#440154 0px,#440256 355px,#471063 465px,#470e61 530px,#482374 589px)"></i><i style="left:488px;background:linear-gradient(#440154 0px,#440256 375px,#481c6e 510px,#424186 589px)"></i><i style="left:490px;background:linear-gradient(#440154 0px,#440154 262px,#46085c 329px,#463480 478px,#3e4c8a 529px,#31688e 589px)"></i><i style="left:492px;background:linear-gradient(#440154 0px,#440256 133px,#46085c 188px,#472a7a 283px,#404588 359px,#32648e 493px,#24878e 589px)"></i><i style="left:494px;background:linear-gradient(#450457 0px,#460b5e 67px,#481d6f 145px,#472f7d 198px,#3a548c 268px,#306a8e 364px,#2b748e 489px,#20928c 589px)"></i><i style="left:496px;background:linear-gradient(#440256 0px,#450457 157px,#460b5e 215px,#482878 294px,#414287 371px,#34608d 491px,#25848e 589px)"></i><i style="left:498px;background:linear-gradient(#440154 0px,#440154 230px,#46085c 341px,#481d6f 423px,#463480 489px,#3e4c8a 537px,#32648e 589px)"></i><i style="left:500px;background:linear-gradient(#440154 0px,#440256 371px,#48186a 504px,#482173 531px,#433e85 589px)"></i><i style="left:502px;background:linear-gradient(#440154 0px,#440256 380px,#471063 468px,#470e61 540px,#482071 589px)"></i><i style="left:504px;background:linear-gradient(#440154 0px,#440256 380px,#471063 466px,#471164 536px,#482173 589px)"></i><i style="left:506px;background:linear-gradient(#440154 0px,#440256 376px,#48186a 499px,#453581 589px)"></i><i style="left:508px;background:linear-gradient(#440154 0px,#440154 289px,#450559 345px,#471164 406px,#482979 487px,#3e4a89 589px)"></i><i style="left:510px;background:linear-gradient(#440154 0px,#440256 211px,#460b5e 304px,#482979 418px,#443983 466px,#375b8d 589px)"></i><i style="left:512px;background:linear-gradient(#440154 0px,#450559 170px,#471164 288px,#443983 432px,#38588c 541px,#34618d 589px)"></i><i style="left:514px;background:linear-gradient(#440154 0px,#440256 203px,#460b5e 304px,#482979 418px,#443983 466px,#375b8d 589px)"></i><i style="left:516px;background:linear-gradient(#440154 0px,#440154 290px,#450559 345px,#471164 406px,#482979 487px,#3e4a89 589px)"></i><i style="left:518px;background:linear-gradient(#440154 0px,#440256 376px,#48186a 499px,#453581 589px)"></i><i style="left:520px;background:linear-gradient(#440154 0px,#440256 379px,#471063 466px,#471164 534px,#482173 589px)"></i><i style="left:522px;background:linear-gradient(#440154 0px,#440256 372px,#471063 467px,#460b5e 544px,#481769 589px)"></i><i style="left:524px;background:linear-gradient(#440154 0px,#440256 379px,#471063 466px,#471164 524px,#482576 589px)"></i><i style="left:526px;background:linear-gradient(#440154 0px,#440256 376px,#481d6f 504px,#433d84 589px)"></i><i style="left:528px;background:linear-gradient(#440154 0px,#450457 269px,#46085c 354px,#471164 401px,#482979 467px,#404588 538px,#39558c 589px)"></i><i style="left:530px;background:linear-gradient(#440154 0px,#440256 211px,#460b5e 304px,#482173 390px,#414287 466px,#38588c 527px,#31678e 589px)"></i><i style="left:532px;background:linear-gradient(#440154 0px,#450559 170px,#471164 288px,#482677 372px,#404588 445px,#365d8d 513px,#2e6e8e 589px)"></i><i style="left:534px;background:linear-gradient(#440154 0px,#440256 211px,#460b5e 304px,#482173 390px,#414287 466px,#38588c 527px,#31678e 589px)"></i><i style="left:536px;background:linear-gradient(#440154 0px,#440154 290px,#450559 346px,#470e61 393px,#482979 468px,#424086 526px,#39558c 589px)"></i><i style="left:538px;background:linear-gradient(#440154 0px,#440256 376px,#481d6f 504px,#433d84 589px)"></i><i style="left:540px;background:linear-gradient(#440154 0px,#440256 380px,#471063 466px,#471164 523px,#482677 589px)"></i><i style="left:542px;background:linear-gradient(#440154 0px,#440256 318px,#450559 397px,#471063 464px,#470d60 555px,#481467 589px)"></i><i style="left:544px;background:linear-gradient(#440154 0px,#440256 374px,#471063 467px,#46085c 547px,#460b5e 589px)"></i><i style="left:546px;background:linear-gradient(#440154 0px,#440154 360px,#471063 468px,#46075a 549px,#460b5e 589px)"></i><i style="left:548px;background:linear-gradient(#440154 0px,#440154 360px,#471063 468px,#460b5e 553px,#481467 589px)"></i><i style="left:550px;background:linear-gradient(#440154 0px,#450559 377px,#471063 457px,#471164 526px,#482173 589px)"></i><i style="left:552px;background:linear-gradient(#440154 0px,#440256 378px,#48186a 506px,#46337f 589px)"></i><i style="left:554px;background:linear-gradient(#440154 0px,#440256 366px,#460b5e 415px,#482979 499px,#3f4788 589px)"></i><i style="left:556px;background:linear-gradient(#440154 0px,#440154 287px,#450559 340px,#48186a 408px,#443983 469px,#365c8d 589px)"></i><i style="left:558px;background:linear-gradient(#440154 0px,#450559 259px,#460b5e 312px,#482576 390px,#3f4889 444px,#375a8c 480px,#2e6d8e 589px)"></i><i style="left:560px;background:linear-gradient(#440154 0px,#440256 145px,#471164 286px,#481d6f 327px,#453581 382px,#3a548c 429px,#2f6b8e 468px,#2a778e 589px)"></i><i style="left:562px;background:linear-gradient(#440154 0px,#450559 145px,#48186a 295px,#443b84 381px,#3a548c 419px,#2d708e 464px,#297a8e 589px)"></i><i style="left:564px;background:linear-gradient(#440154 0px,#440256 172px,#470e61 288px,#46307e 383px,#3e4c8a 424px,#32658e 466px,#2b748e 589px)"></i><i style="left:566px;background:linear-gradient(#440154 0px,#440256 254px,#46085c 317px,#482173 396px,#404588 453px,#38588c 504px,#31688e 589px)"></i><i style="left:568px;background:linear-gradient(#440154 0px,#440154 311px,#450559 357px,#471164 404px,#453581 481px,#39558c 589px)"></i><i style="left:570px;background:linear-gradient(#440154 0px,#440256 373px,#470e61 434px,#482979 519px,#414487 589px)"></i><i style="left:572px;background:linear-gradient(#440154 0px,#450559 390px,#481d6f 508px,#433d84 589px)"></i><i style="left:574px;background:linear-gradient(#440256 0px,#450559 287px,#460b5e 384px,#46307e 505px,#3e4c8a 589px)"></i><i style="left:576px;background:linear-gradient(#440154 0px,#440154 208px,#46085c 319px,#481d6f 402px,#443983 468px,#375b8d 589px)"></i><i style="left:578px;background:linear-gradient(#440154 0px,#440256 164px,#460b5e 304px,#482677 402px,#424086 461px,#38588c 540px,#34618d 589px)"></i><i style="left:580px;background:linear-gradient(#440154 0px,#440154 208px,#46085c 319px,#481d6f 402px,#443983 468px,#375b8d 589px)"></i><i style="left:582px;background:linear-gradient(#440154 0px,#440154 310px,#450559 361px,#470e61 407px,#482979 487px,#443983 531px,#3e4a89 589px)"></i><i style="left:584px;background:linear-gradient(#440154 0px,#450559 394px,#481d6f 518px,#453581 589px)"></i><i style="left:586px;background:linear-gradient(#440154 0px,#440256 371px,#471063 464px,#471164 534px,#482173 589px)"></i><i style="left:588px;background:linear-gradient(#440154 0px,#440256 375px,#471063 467px,#460b5e 541px,#481769 589px)"></i><i style="left:590px;background:linear-gradient(#440154 0px,#450559 396px,#471063 461px,#471164 513px,#482576 589px)"></i><i style="left:592px;background:linear-gradient(#440154 0px,#440256 371px,#481d6f 494px,#433d84 589px)"></i><i style="left:594px;background:linear-gradient(#440154 0px,#440154 280px,#450559 329px,#471164 381px,#453581 480px,#39558c 589px)"></i><i style="left:596px;background:linear-gradient(#440154 0px,#440256 195px,#460b5e 284px,#482979 372px,#404588 440px,#38588c 502px,#31678e 589px)"></i><i style="left:598px;background:linear-gradient(#440154 0px,#450559 144px,#481467 274px,#481d6f 310px,#453581 363px,#404588 402px,#355e8d 477px,#2e6e8e 589px)"></i><i style="left:600px;background:linear-gradient(#440154 0px,#440256 195px,#460b5e 284px,#482979 372px,#404588 440px,#38588c 502px,#31678e 589px)"></i><i style="left:602px;background:linear-gradient(#440256 0px,#450457 269px,#46085c 341px,#48186a 403px,#453581 480px,#39558c 589px)"></i><i style="left:604px;background:linear-gradient(#440154 0px,#440256 370px,#481d6f 493px,#424086 589px)"></i><i style="left:606px;background:linear-gradient(#440154 0px,#450559 300px,#460b5e 417px,#481d6f 511px,#453581 557px,#404688 589px)"></i><i style="left:608px;background:linear-gradient(#440154 0px,#440154 318px,#450559 369px,#470e61 412px,#482677 482px,#404588 535px,#34618d 589px)"></i><i style="left:610px;background:linear-gradient(#440154 0px,#440154 234px,#46085c 322px,#481d6f 397px,#463480 454px,#3a548c 515px,#306a8e 550px,#29798e 589px)"></i><i style="left:612px;background:linear-gradient(#440154 0px,#440256 156px,#470e61 306px,#482979 384px,#404588 452px,#39568c 492px,#27808e 566px,#25858e 589px)"></i><i style="left:614px;background:linear-gradient(#440154 0px,#440256 182px,#460b5e 305px,#482979 397px,#404588 462px,#39568c 500px,#2d718e 543px,#26828e 589px)"></i><i style="left:616px;background:linear-gradient(#440154 0px,#440256 289px,#46085c 346px,#481d6f 422px,#463480 477px,#3a548c 531px,#2f6b8e 572px,#2d708e 589px)"></i><i style="left:618px;background:linear-gradient(#440154 0px,#440154 347px,#450559 391px,#481d6f 483px,#443983 536px,#3a548c 589px)"></i><i style="left:620px;background:linear-gradient(#440154 0px,#440256 380px,#481467 510px,#453781 589px)"></i><i style="left:622px;background:linear-gradient(#440154 0px,#440256 380px,#471063 468px,#470e61 535px,#482374 589px)"></i><i style="left:624px;background:linear-gradient(#440154 0px,#440256 380px,#471063 464px,#471164 509px,#472a7a 589px)"></i><i style="left:626px;background:linear-gradient(#440154 0px,#440256 370px,#481d6f 500px,#453581 557px,#424086 589px)"></i><i style="left:628px;background:linear-gradient(#440154 0px,#440154 290px,#450559 342px,#471164 403px,#482979 480px,#404588 543px,#3a538b 589px)"></i><i style="left:630px;background:linear-gradient(#440154 0px,#440154 175px,#46085c 317px,#472f7d 458px,#38588c 556px,#355f8d 589px)"></i><i style="left:632px;background:linear-gradient(#440154 0px,#440256 219px,#46085c 316px,#472f7d 458px,#38588c 556px,#355f8d 589px)"></i><i style="left:634px;background:linear-gradient(#440154 0px,#440154 266px,#450559 341px,#471164 403px,#482979 480px,#404588 543px,#3a538b 589px)"></i><i style="left:636px;background:linear-gradient(#440154 0px,#46085c 402px,#481d6f 499px,#46307e 545px,#424086 589px)"></i><i style="left:638px;background:linear-gradient(#440154 0px,#440256 379px,#471063 463px,#471164 507px,#472a7a 589px)"></i><i style="left:640px;background:linear-gradient(#440154 0px,#440154 360px,#471063 468px,#470d60 539px,#481c6e 589px)"></i><i style="left:642px;background:linear-gradient(#440154 0px,#440256 380px,#471063 466px,#471164 526px,#482475 589px)"></i><i style="left:644px;background:linear-gradient(#440154 0px,#440256 375px,#48186a 502px,#472a7a 550px,#453781 589px)"></i><i style="left:646px;background:linear-gradient(#440154 0px,#440154 299px,#450559 360px,#460b5e 400px,#482173 485px,#443983 541px,#3f4788 589px)"></i><i style="left:648px;background:linear-gradient(#440154 0px,#440154 195px,#46085c 336px,#481d6f 437px,#46307e 497px,#404588 541px,#3b518b 589px)"></i><i style="left:650px;background:linear-gradient(#440154 0px,#440154 195px,#46085c 336px,#481d6f 437px,#46307e 497px,#404588 541px,#3b518b 589px)"></i><i style="left:652px;background:linear-gradient(#440154 0px,#440154 299px,#450559 360px,#460b5e 400px,#482173 485px,#443983 541px,#3f4788 589px)"></i><i style="left:654px;background:linear-gradient(#440154 0px,#440256 376px,#48186a 502px,#472a7a 550px,#453781 589px)"></i><i style="left:656px;background:linear-gradient(#440154 0px,#440256 380px,#471063 466px,#471164 526px,#482475 589px)"></i><i style="left:658px;background:linear-gradient(#440154 0px,#440154 361px,#471063 470px,#460b5e 552px,#481467 589px)"></i><i style="left:660px;background:linear-gradient(#440154 0px,#440154 351px,#471063 475px,#46075a 548px,#460a5d 589px)"></i><i style="left:662px;background:linear-gradient(#440154 0px,#440256 340px,#450457 386px,#471063 476px,#46075a 560px,#46085c 589px)"></i><i style="left:664px;background:linear-gradient(#440154 0px,#440154 362px,#470e61 458px,#470d60 514px,#440256 589px)"></i><i style="left:666px;background:linear-gradient(#440154 0px,#440154 362px,#470e61 460px,#470d60 512px,#450559 554px,#46075a 589px)"></i><i style="left:668px;background:linear-gradient(#440154 0px,#440154 362px,#470e61 462px,#46085c 551px,#471365 589px)"></i><i style="left:670px;background:linear-gradient(#440154 0px,#440256 382px,#470d60 449px,#470e61 532px,#482475 589px)"></i><i style="left:672px;background:linear-gradient(#440154 0px,#440154 286px,#450559 401px,#481467 503px,#433e85 589px)"></i><i style="left:674px;background:linear-gradient(#440154 0px,#440154 311px,#450559 390px,#481d6f 485px,#46307e 520px,#404588 548px,#375a8c 589px)"></i><i style="left:676px;background:linear-gradient(#440154 0px,#440154 266px,#460b5e 368px,#481c6e 432px,#46307e 483px,#3e4c8a 522px,#33628d 552px,#2c718e 589px)"></i><i style="left:678px;background:linear-gradient(#440154 0px,#440256 208px,#460b5e 325px,#481d6f 399px,#453581 464px,#414287 491px,#2d708e 551px,#277e8e 589px)"></i><i style="left:680px;background:linear-gradient(#440154 0px,#440256 231px,#460b5e 333px,#481d6f 407px,#46307e 458px,#414287 495px,#2d718e 557px,#287c8e 589px)"></i><i style="left:682px;background:linear-gradient(#440154 0px,#450559 329px,#460b5e 381px,#472a7a 482px,#3e4c8a 531px,#34608d 560px,#2f6b8e 589px)"></i><i style="left:684px;background:linear-gradient(#440154 0px,#440154 357px,#450559 403px,#481d6f 499px,#443b84 547px,#3b518b 589px)"></i><i style="left:686px;background:linear-gradient(#440154 0px,#450559 394px,#471164 508px,#453581 589px)"></i><i style="left:688px;background:linear-gradient(#440154 0px,#450559 387px,#470d60 455px,#470e61 536px,#481f70 589px)"></i><i style="left:690px;background:linear-gradient(#440154 0px,#440154 367px,#460b5e 452px,#46075a 558px,#470e61 589px)"></i><i style="left:692px;background:linear-gradient(#440154 0px,#440154 366px,#460b5e 454px,#450559 589px)"></i><i style="left:694px;background:linear-gradient(#440154 0px,#440154 367px,#460b5e 456px,#450457 589px)"></i><i style="left:696px;background:linear-gradient(#440154 0px,#440154 368px,#460b5e 458px,#460a5d 517px,#440256 589px)"></i><i style="left:698px;background:linear-gradient(#440154 0px,#440154 369px,#460b5e 461px,#440256 589px)"></i><i style="left:700px;background:linear-gradient(#440154 0px,#440154 369px,#460b5e 464px,#440256 589px)"></i><i style="left:702px;background:linear-gradient(#440154 0px,#440154 370px,#460b5e 468px,#440256 589px)"></i><i style="left:704px;background:linear-gradient(#440154 0px,#440154 370px,#460b5e 475px,#440154 589px)"></i><i style="left:706px;background:linear-gradient(#440154 0px,#440154 371px,#460a5d 451px,#460a5d 508px,#440256 589px)"></i><i style="left:708px;background:linear-gradient(#440154 0px,#440154 371px,#460a5d 453px,#450559 543px,#46075a 589px)"></i><i style="left:710px;background:linear-gradient(#440154 0px,#440256 384px,#460a5d 449px,#460b5e 547px,#471063 589px)"></i><i style="left:712px;background:linear-gradient(#440154 0px,#46085c 393px,#471164 524px,#481a6c 589px)"></i><i style="left:714px;background:linear-gradient(#440154 0px,#440256 386px,#471164 484px,#472e7c 589px)"></i><i style="left:716px;background:linear-gradient(#440154 0px,#440154 227px,#450559 281px,#48186a 379px,#453581 485px,#3d4e8a 589px)"></i><i style="left:718px;background:linear-gradient(#440154 0px,#471164 168px,#472a7a 266px,#443983 334px,#3e4c8a 438px,#34608d 589px)"></i><i style="left:720px;background:linear-gradient(#440154 0px,#440256 138px,#46085c 229px,#453581 419px,#38598c 589px)"></i><i style="left:722px;background:linear-gradient(#440154 0px,#440154 319px,#450559 375px,#481d6f 487px,#443b84 589px)"></i><i style="left:724px;background:linear-gradient(#440154 0px,#440256 400px,#460b5e 519px,#481d6f 589px)"></i><i style="left:726px;background:linear-gradient(#440154 0px,#440154 377px,#46085c 455px,#46075a 557px,#470d60 589px)"></i><i style="left:728px;background:linear-gradient(#440154 0px,#440154 378px,#46085c 457px,#46085c 536px,#471063 589px)"></i><i style="left:730px;background:linear-gradient(#440154 0px,#440256 401px,#46075a 438px,#46085c 527px,#481a6c 589px)"></i><i style="left:732px;background:linear-gradient(#440154 0px,#450559 307px,#470e61 484px,#48186a 529px,#463480 589px)"></i><i style="left:734px;background:linear-gradient(#440154 0px,#440256 267px,#46085c 378px,#481d6f 488px,#443b84 541px,#39558c 589px)"></i><i style="left:736px;background:linear-gradient(#440154 0px,#440154 175px,#460b5e 270px,#482173 366px,#443983 490px,#31688e 561px,#2c718e 589px)"></i><i style="left:738px;background:linear-gradient(#440154 0px,#450559 117px,#453581 335px,#433e85 385px,#3f4788 486px,#39558c 514px,#2d718e 551px,#277f8e 589px)"></i><i style="left:740px;background:linear-gradient(#440154 0px,#440154 145px,#450559 202px,#472a7a 375px,#443b84 482px,#3e4a89 513px,#2e6f8e 565px,#2a768e 589px)"></i><i style="left:742px;background:linear-gradient(#440154 0px,#440154 280px,#46085c 361px,#482173 485px,#46307e 516px,#404588 545px,#365c8d 589px)"></i><i style="left:744px;background:linear-gradient(#440154 0px,#440154 373px,#450559 435px,#471164 505px,#472a7a 556px,#443a83 589px)"></i><i style="left:746px;background:linear-gradient(#440154 0px,#440154 386px,#46075a 518px,#481d6f 589px)"></i><i style="left:748px;background:linear-gradient(#440154 0px,#440256 402px,#46075a 458px,#46075a 559px,#470d60 589px)"></i><i style="left:750px;background:linear-gradient(#440154 0px,#450457 589px)"></i><i style="left:752px;background:linear-gradient(#440154 0px,#440154 390px,#450559 443px,#440256 589px)"></i><i style="left:754px;background:linear-gradient(#440154 0px,#440256 406px,#460b5e 589px)"></i><i style="left:756px;background:linear-gradient(#440154 0px,#440256 393px,#46075a 522px,#481467 589px)"></i><i style="left:758px;background:linear-gradient(#440256 0px,#460b5e 412px,#481467 589px)"></i><i style="left:760px;background:linear-gradient(#440154 0px,#440256 410px,#460a5d 589px)"></i><i style="left:762px;background:linear-gradient(#440154 0px,#450457 589px)"></i><i style="left:764px;background:linear-gradient(#440154 0px,#440154 386px,#450559 467px,#450559 589px)"></i><i style="left:766px;background:linear-gradient(#440154 0px,#450457 589px)"></i><i style="left:768px;background:linear-gradient(#440154 0px,#450457 589px)"></i><i style="left:770px;background:linear-gradient(#440154 0px,#440154 404px,#450559 548px,#470d60 589px)"></i><i style="left:772px;background:linear-gradient(#440154 0px,#440256 397px,#46085c 503px,#48186a 589px)"></i><i style="left:774px;background:linear-gradient(#440154 0px,#450559 420px,#470e61 489px,#482979 589px)"></i><i style="left:776px;background:linear-gradient(#440154 0px,#440256 374px,#460b5e 426px,#482475 497px,#433e85 589px)"></i><i style="left:778px;background:linear-gradient(#440154 0px,#440154 278px,#450559 336px,#471164 393px,#443983 479px,#3b528b 589px)"></i><i style="left:780px;background:linear-gradient(#440154 0px,#440154 154px,#46085c 299px,#481d6f 385px,#404588 455px,#3c508b 485px,#355f8d 589px)"></i><i style="left:782px;background:linear-gradient(#440154 0px,#440256 184px,#460b5e 311px,#482173 391px,#443983 431px,#3c508b 476px,#34608d 589px)"></i><i style="left:784px;background:linear-gradient(#440154 0px,#440154 257px,#450559 323px,#481467 392px,#443b84 471px,#39558c 589px)"></i><i style="left:786px;background:linear-gradient(#440154 0px,#440256 361px,#460b5e 415px,#482878 493px,#414287 589px)"></i><i style="left:788px;background:linear-gradient(#440154 0px,#440256 418px,#481467 506px,#472d7b 589px)"></i><i style="left:790px;background:linear-gradient(#440154 0px,#440154 332px,#450559 481px,#460b5e 528px,#481b6d 589px)"></i><i style="left:792px;background:linear-gradient(#440154 0px,#440256 401px,#46085c 521px,#471164 589px)"></i><i style="left:794px;background:linear-gradient(#440154 0px,#440256 448px,#46075a 520px,#481467 589px)"></i><i style="left:796px;background:linear-gradient(#440154 0px,#46085c 443px,#470e61 516px,#481f70 589px)"></i><i style="left:798px;background:linear-gradient(#440154 0px,#440256 413px,#470e61 491px,#472a7a 589px)"></i><i style="left:800px;background:linear-gradient(#440154 0px,#440256 366px,#470e61 448px,#472a7a 541px,#453781 589px)"></i><i style="left:802px;background:linear-gradient(#440154 0px,#440154 284px,#450559 351px,#471164 421px,#453581 538px,#414287 589px)"></i><i style="left:804px;background:linear-gradient(#440154 0px,#440154 206px,#450559 315px,#481467 404px,#453581 514px,#414487 559px,#3f4889 589px)"></i><i style="left:806px;background:linear-gradient(#440154 0px,#46085c 323px,#48186a 412px,#482979 471px,#414487 551px,#3e4a89 589px)"></i><i style="left:808px;background:linear-gradient(#440256 0px,#450559 285px,#460b5e 363px,#482979 487px,#433d84 543px,#3f4788 589px)"></i><i style="left:810px;background:linear-gradient(#440154 0px,#440154 268px,#450559 369px,#471164 436px,#46307e 537px,#433e85 589px)"></i><i style="left:812px;background:linear-gradient(#440154 0px,#46085c 410px,#471164 473px,#46337f 589px)"></i><i style="left:814px;background:linear-gradient(#440154 0px,#440154 332px,#450559 445px,#470e61 504px,#482576 589px)"></i><i style="left:816px;background:linear-gradient(#440154 0px,#440256 470px,#460b5e 532px,#481a6c 589px)"></i><i style="left:818px;background:linear-gradient(#440154 0px,#440154 478px,#450559 533px,#471063 589px)"></i><i style="left:820px;background:linear-gradient(#440154 0px,#450559 367px,#470e61 589px)"></i><i style="left:822px;background:linear-gradient(#440154 0px,#440256 444px,#460a5d 589px)"></i><i style="left:824px;background:linear-gradient(#440154 0px,#440256 246px,#460b5e 589px)"></i><i style="left:826px;background:linear-gradient(#440154 0px,#440256 477px,#46075a 589px)"></i><i style="left:828px;background:linear-gradient(#440154 0px,#440256 589px)"></i><i style="left:830px;background:linear-gradient(#440154 0px,#440154 417px,#460a5d 589px)"></i><i style="left:832px;background:linear-gradient(#440154 0px,#440256 442px,#460b5e 589px)"></i><i style="left:834px;background:linear-gradient(#440154 0px,#440256 589px)"></i><i style="left:836px;background:linear-gradient(#440154 0px,#440154 589px)"></i><i style="left:838px;background:linear-gradient(#440154 0px,#440154 589px)"></i><i style="left:840px;background:linear-gradient(#440154 0px,#440256 589px)"></i><i style="left:842px;background:linear-gradient(#440154 0px,#440154 429px,#46075a 589px)"></i><i style="left:844px;background:linear-gradient(#440154 0px,#440256 437px,#460b5e 589px)"></i><i style="left:846px;background:linear-gradient(#440256 0px,#450559 263px,#471164 589px)"></i><i style="left:848px;background:linear-gradient(#440154 0px,#440154 494px,#450559 589px)"></i><i style="left:850px;background:linear-gradient(#440154 0px,#440154 527px,#450559 589px)"></i><i style="left:852px;background:linear-gradient(#440154 0px,#440154 432px,#470e61 589px)"></i><i style="left:854px;background:linear-gradient(#440154 0px,#440256 440px,#471164 589px)"></i><i style="left:856px;background:linear-gradient(#440154 0px,#440256 459px,#460a5d 589px)"></i><i style="left:858px;background:linear-gradient(#440154 0px,#440154 476px,#450559 589px)"></i><i style="left:860px;background:linear-gradient(#440154 0px,#440154 436px,#46075a 589px)"></i><i style="left:862px;background:linear-gradient(#440154 0px,#440154 393px,#46085c 496px,#46085c 589px)"></i><i style="left:864px;background:linear-gradient(#440154 0px,#440154 349px,#470d60 495px,#470e61 589px)"></i><i style="left:866px;background:linear-gradient(#440154 0px,#440154 311px,#471164 476px,#471063 589px)"></i><i style="left:868px;background:linear-gradient(#440154 0px,#440256 301px,#481769 485px,#471063 589px)"></i><i style="left:870px;background:linear-gradient(#440154 0px,#440256 256px,#481a6c 459px,#471164 589px)"></i><i style="left:872px;background:linear-gradient(#440154 0px,#450559 297px,#471365 372px,#481b6d 459px,#471164 589px)"></i><i style="left:874px;background:linear-gradient(#440154 0px,#440256 260px,#481a6c 464px,#481467 550px,#481668 589px)"></i><i style="left:876px;background:linear-gradient(#440154 0px,#440256 307px,#481668 474px,#471164 589px)"></i><i style="left:878px;background:linear-gradient(#440154 0px,#440154 318px,#471063 472px,#470d60 589px)"></i><i style="left:880px;background:linear-gradient(#440154 0px,#440154 358px,#460b5e 485px,#460b5e 589px)"></i><i style="left:882px;background:linear-gradient(#440154 0px,#440256 401px,#470e61 589px)"></i><i style="left:884px;background:linear-gradient(#440154 0px,#440256 407px,#471063 589px)"></i><i style="left:886px;background:linear-gradient(#440154 0px,#450559 345px,#471164 589px)"></i><i style="left:888px;background:linear-gradient(#440154 0px,#440256 350px,#470e61 589px)"></i><i style="left:890px;background:linear-gradient(#440154 0px,#440154 464px,#46075a 589px)"></i><i style="left:892px;background:linear-gradient(#440154 0px,#440256 256px,#460b5e 589px)"></i><i style="left:894px;background:linear-gradient(#440154 0px,#440256 352px,#460b5e 589px)"></i><i style="left:896px;background:linear-gradient(#440154 0px,#440154 367px,#460a5d 479px,#460b5e 589px)"></i><i style="left:898px;background:linear-gradient(#440154 0px,#440256 355px,#471063 498px,#460b5e 557px,#470d60 589px)"></i><i style="left:900px;background:linear-gradient(#440154 0px,#440154 309px,#481467 478px,#460b5e 589px)"></i><i style="left:902px;background:linear-gradient(#440154 0px,#440256 306px,#48186a 468px,#470d60 589px)"></i><i style="left:904px;background:linear-gradient(#440154 0px,#440256 290px,#481b6d 469px,#481a6c 504px,#470e61 557px,#470d60 589px)"></i><i style="left:906px;background:linear-gradient(#440154 0px,#440256 289px,#481b6d 475px,#481a6c 503px,#470e61 557px,#470e61 589px)"></i><i style="left:908px;background:linear-gradient(#440256 0px,#460b5e 348px,#481a6c 469px,#481769 589px)"></i><i style="left:910px;background:linear-gradient(#440154 0px,#440256 336px,#471365 473px,#471365 509px,#460b5e 564px,#470d60 589px)"></i><i style="left:912px;background:linear-gradient(#440154 0px,#450559 367px,#470e61 475px,#470d60 589px)"></i><i style="left:914px;background:linear-gradient(#440154 0px,#440154 369px,#460a5d 492px,#460a5d 589px)"></i><i style="left:916px;background:linear-gradient(#440154 0px,#440256 358px,#471063 589px)"></i><i style="left:918px;background:linear-gradient(#440154 0px,#440256 301px,#471164 589px)"></i><i style="left:920px;background:linear-gradient(#440256 0px,#46075a 280px,#481467 589px)"></i><i style="left:922px;background:linear-gradient(#440154 0px,#440256 459px,#460a5d 589px)"></i><i style="left:924px;background:linear-gradient(#440154 0px,#440154 589px)"></i><i style="left:926px;background:linear-gradient(#440154 0px,#440154 589px)"></i><i style="left:928px;background:linear-gradient(#440154 0px,#440154 417px,#450559 589px)"></i><i style="left:930px;background:linear-gradient(#440154 0px,#440256 262px,#460a5d 589px)"></i><i style="left:932px;background:linear-gradient(#440154 0px,#440154 423px,#46075a 589px)"></i><i style="left:934px;background:linear-gradient(#440154 0px,#440154 410px,#450559 589px)"></i><i style="left:936px;background:linear-gradient(#440154 0px,#440154 360px,#46085c 480px,#46075a 589px)"></i><i style="left:938px;background:linear-gradient(#440154 0px,#440256 337px,#460b5e 460px,#460a5d 589px)"></i><i style="left:940px;background:linear-gradient(#440154 0px,#440256 306px,#471063 468px,#46085c 589px)"></i><i style="left:942px;background:linear-gradient(#440154 0px,#440256 260px,#471365 460px,#460a5d 589px)"></i><i style="left:944px;background:linear-gradient(#440154 0px,#440256 230px,#450559 299px,#471063 375px,#481467 471px,#460a5d 589px)"></i><i style="left:946px;background:linear-gradient(#440154 0px,#440256 259px,#471365 459px,#460b5e 589px)"></i><i style="left:948px;background:linear-gradient(#440256 0px,#450559 276px,#471365 485px,#471164 589px)"></i><i style="left:950px;background:linear-gradient(#440154 0px,#440154 297px,#470d60 481px,#460b5e 589px)"></i><i style="left:952px;background:linear-gradient(#440154 0px,#440154 360px,#46085c 480px,#46075a 589px)"></i><i style="left:954px;background:linear-gradient(#440154 0px,#440154 410px,#450559 481px,#450559 589px)"></i><i style="left:956px;background:linear-gradient(#440154 0px,#440154 439px,#450559 589px)"></i><i style="left:958px;background:linear-gradient(#440154 0px,#440154 412px,#46075a 477px,#46075a 589px)"></i><i style="left:960px;background:linear-gradient(#440154 0px,#440154 375px,#460b5e 479px,#46085c 589px)"></i><i style="left:962px;background:linear-gradient(#440154 0px,#440256 367px,#471164 486px,#460b5e 589px)"></i><i style="left:964px;background:linear-gradient(#440154 0px,#440256 330px,#46085c 397px,#481668 470px,#470d60 589px)"></i><i style="left:966px;background:linear-gradient(#440154 0px,#440256 302px,#460b5e 394px,#481a6c 470px,#470d60 589px)"></i><i style="left:968px;background:linear-gradient(#440154 0px,#440256 288px,#460b5e 385px,#481b6d 468px,#481a6c 506px,#470e61 557px,#470d60 589px)"></i><i style="left:970px;background:linear-gradient(#440154 0px,#440256 302px,#460b5e 394px,#481a6c 470px,#470d60 589px)"></i><i style="left:972px;background:linear-gradient(#440154 0px,#440256 330px,#46085c 397px,#481668 470px,#470d60 589px)"></i><i style="left:974px;background:linear-gradient(#440154 0px,#440154 336px,#450559 404px,#471164 486px,#470e61 589px)"></i><i style="left:976px;background:linear-gradient(#440154 0px,#440256 294px,#450559 421px,#470d60 493px,#460b5e 589px)"></i><i style="left:978px;background:linear-gradient(#440154 0px,#440154 411px,#46075a 477px,#46075a 589px)"></i><i style="left:980px;background:linear-gradient(#440154 0px,#440154 444px,#450559 589px)"></i><i style="left:982px;background:linear-gradient(#440154 0px,#450457 391px,#471063 589px)"></i><i style="left:984px;background:linear-gradient(#440154 0px,#450559 362px,#471365 589px)"></i><i style="left:986px;background:linear-gradient(#440154 0px,#440154 407px,#46075a 477px,#46085c 589px)"></i><i style="left:988px;background:linear-gradient(#440154 0px,#440154 376px,#460b5e 479px,#46085c 589px)"></i><i style="left:990px;background:linear-gradient(#440154 0px,#440256 366px,#471164 484px,#460b5e 589px)"></i><i style="left:992px;background:linear-gradient(#440154 0px,#440256 330px,#46085c 397px,#481668 469px,#470e61 589px)"></i><i style="left:994px;background:linear-gradient(#440256 0px,#46085c 342px,#481b6d 481px,#471164 565px,#471365 589px)"></i><i style="left:996px;background:linear-gradient(#440154 0px,#440256 287px,#460b5e 385px,#481b6d 467px,#471063 589px)"></i><i style="left:998px;background:linear-gradient(#440154 0px,#440256 302px,#460b5e 394px,#481a6c 470px,#470d60 589px)"></i><i style="left:1000px;background:linear-gradient(#440154 0px,#440256 330px,#46085c 397px,#481668 470px,#481668 505px,#460b5e 589px)"></i><i style="left:1002px;background:linear-gradient(#440154 0px,#440256 367px,#471164 486px,#460a5d 589px)"></i><i style="left:1004px;background:linear-gradient(#440154 0px,#440154 376px,#460b5e 479px,#46085c 589px)"></i><i style="left:1006px;background:linear-gradient(#440154 0px,#440154 412px,#46075a 477px,#46075a 589px)"></i><i style="left:1008px;background:linear-gradient(#440154 0px,#440154 444px,#450559 589px)"></i><i style="left:1010px;background:linear-gradient(#440154 0px,#440154 469px,#46075a 589px)"></i><i style="left:1012px;background:linear-gradient(#440154 0px,#440256 370px,#470d60 589px)"></i><i style="left:1014px;background:linear-gradient(#440154 0px,#440256 414px,#460b5e 589px)"></i><i style="left:1016px;background:linear-gradient(#440154 0px,#440256 288px,#460a5d 589px)"></i><i style="left:1018px;background:linear-gradient(#440154 0px,#440256 360px,#470d60 589px)"></i><i style="left:1020px;background:linear-gradient(#440154 0px,#440256 337px,#470d60 458px,#471063 589px)"></i><i style="left:1022px;background:linear-gradient(#440154 0px,#440256 305px,#471164 459px,#460a5d 589px)"></i><i style="left:1024px;background:linear-gradient(#440154 0px,#440256 261px,#481467 441px,#481467 504px,#460b5e 549px,#460a5d 589px)"></i><i style="left:1026px;background:linear-gradient(#440154 0px,#450559 298px,#471063 361px,#481668 439px,#481668 500px,#460b5e 552px,#460a5d 589px)"></i><i style="left:1028px;background:linear-gradient(#440154 0px,#440256 261px,#481467 441px,#481467 504px,#460b5e 550px,#460a5d 589px)"></i><i style="left:1030px;background:linear-gradient(#440154 0px,#440256 304px,#471164 457px,#460b5e 589px)"></i><i style="left:1032px;background:linear-gradient(#440154 0px,#440256 334px,#470d60 456px,#470e61 589px)"></i><i style="left:1034px;background:linear-gradient(#440154 0px,#440154 352px,#460a5d 481px,#460b5e 589px)"></i><i style="left:1036px;background:linear-gradient(#440154 0px,#440154 389px,#46085c 548px,#470e61 589px)"></i><i style="left:1038px;background:linear-gradient(#440154 0px,#450559 448px,#460b5e 530px,#481668 589px)"></i><i style="left:1040px;background:linear-gradient(#440154 0px,#440256 471px,#471063 589px)"></i><i style="left:1042px;background:linear-gradient(#440154 0px,#440154 442px,#460b5e 589px)"></i><i style="left:1044px;background:linear-gradient(#440154 0px,#440154 404px,#470d60 589px)"></i><i style="left:1046px;background:linear-gradient(#440154 0px,#440256 379px,#471164 589px)"></i><i style="left:1048px;background:linear-gradient(#440154 0px,#440154 323px,#471063 467px,#481467 589px)"></i><i style="left:1050px;background:linear-gradient(#440154 0px,#440256 293px,#46085c 374px,#481668 467px,#481769 589px)"></i><i style="left:1052px;background:linear-gradient(#440154 0px,#440256 281px,#481a6c 468px,#481a6c 589px)"></i><i style="left:1054px;background:linear-gradient(#440154 0px,#440256 253px,#450559 311px,#481a6c 450px,#481a6c 589px)"></i><i style="left:1056px;background:linear-gradient(#440256 0px,#450559 301px,#481a6c 461px,#481b6d 589px)"></i><i style="left:1058px;background:linear-gradient(#440154 0px,#440256 297px,#460b5e 400px,#481668 466px,#48186a 589px)"></i><i style="left:1060px;background:linear-gradient(#440154 0px,#440256 347px,#471063 463px,#48186a 589px)"></i><i style="left:1062px;background:linear-gradient(#440154 0px,#440154 363px,#471164 589px)"></i><i style="left:1064px;background:linear-gradient(#440154 0px,#440154 405px,#471063 589px)"></i><i style="left:1066px;background:linear-gradient(#440154 0px,#440154 433px,#470d60 589px)"></i><i style="left:1068px;background:linear-gradient(#440154 0px,#440154 433px,#470e61 589px)"></i><i style="left:1070px;background:linear-gradient(#440154 0px,#450559 319px,#471365 589px)"></i><i style="left:1072px;background:linear-gradient(#440154 0px,#440154 418px,#460b5e 589px)"></i><i style="left:1074px;background:linear-gradient(#440154 0px,#440256 395px,#471164 589px)"></i><i style="left:1076px;background:linear-gradient(#440154 0px,#440154 522px,#450559 589px)"></i><i style="left:1078px;background:linear-gradient(#440154 0px,#440154 589px)"></i><i style="left:1080px;background:linear-gradient(#440154 0px,#440256 589px)"></i><i style="left:1082px;background:linear-gradient(#440154 0px,#440256 374px,#470e61 589px)"></i><i style="left:1084px;background:linear-gradient(#440154 0px,#440256 463px,#460a5d 589px)"></i><i style="left:1086px;background:linear-gradient(#440154 0px,#440154 403px,#460a5d 589px)"></i><i style="left:1088px;background:linear-gradient(#440154 0px,#440256 309px,#471365 589px)"></i><i style="left:1090px;background:linear-gradient(#440154 0px,#440154 316px,#470d60 464px,#470d60 589px)"></i><i style="left:1092px;background:linear-gradient(#440154 0px,#440256 305px,#471164 459px,#470d60 589px)"></i><i style="left:1094px;background:linear-gradient(#440154 0px,#440256 261px,#481467 441px,#470e61 589px)"></i><i style="left:1096px;background:linear-gradient(#440154 0px,#440256 221px,#450559 296px,#471063 360px,#481668 437px,#481668 589px)"></i><i style="left:1098px;background:linear-gradient(#440154 0px,#440256 259px,#471365 417px,#481467 589px)"></i><i style="left:1100px;background:linear-gradient(#440154 0px,#440256 305px,#471063 435px,#471365 589px)"></i><i style="left:1102px;background:linear-gradient(#440154 0px,#440256 338px,#481769 589px)"></i><i style="left:1104px;background:linear-gradient(#440154 0px,#440256 350px,#471365 500px,#481769 589px)"></i><i style="left:1106px;background:linear-gradient(#440154 0px,#450559 327px,#481668 489px,#481a6c 589px)"></i><i style="left:1108px;background:linear-gradient(#440154 0px,#440256 279px,#460b5e 401px,#481668 467px,#481b6d 589px)"></i><i style="left:1110px;background:linear-gradient(#440154 0px,#440256 292px,#460b5e 404px,#481668 470px,#481b6d 589px)"></i><i style="left:1112px;background:linear-gradient(#440154 0px,#440256 319px,#471365 467px,#481a6c 589px)"></i><i style="left:1114px;background:linear-gradient(#440154 0px,#440256 348px,#48186a 589px)"></i><i style="left:1116px;background:linear-gradient(#440154 0px,#440256 395px,#481467 589px)"></i><i style="left:1118px;background:linear-gradient(#440154 0px,#440154 402px,#471063 589px)"></i><i style="left:1120px;background:linear-gradient(#440154 0px,#440256 460px,#460b5e 589px)"></i><i style="left:1122px;background:linear-gradient(#440154 0px,#440154 466px,#46085c 589px)"></i><i style="left:1124px;background:linear-gradient(#440154 0px,#440154 504px,#450559 589px)"></i><i style="left:1126px;background:linear-gradient(#440154 0px,#450559 589px)"></i><i style="left:1128px;background:linear-gradient(#440154 0px,#450559 589px)"></i><i style="left:1130px;background:linear-gradient(#440154 0px,#440256 589px)"></i><i style="left:1132px;background:linear-gradient(#440154 0px,#440154 589px)"></i><i style="left:1134px;background:linear-gradient(#440154 0px,#440256 589px)"></i><i style="left:1136px;background:linear-gradient(#440154 0px,#440154 416px,#460a5d 589px)"></i><i style="left:1138px;background:linear-gradient(#440154 0px,#450559 338px,#471063 589px)"></i><i style="left:1140px;background:linear-gradient(#440154 0px,#440256 342px,#471164 589px)"></i><i style="left:1142px;background:linear-gradient(#440154 0px,#440256 471px,#460b5e 589px)"></i><i style="left:1144px;background:linear-gradient(#440154 0px,#440256 454px,#471063 589px)"></i><i style="left:1146px;background:linear-gradient(#440154 0px,#440256 435px,#460a5d 589px)"></i><i style="left:1148px;background:linear-gradient(#440154 0px,#440256 429px,#460b5e 589px)"></i><i style="left:1150px;background:linear-gradient(#440154 0px,#440154 460px,#460a5d 589px)"></i><i style="left:1152px;background:linear-gradient(#440154 0px,#440256 389px,#470e61 589px)"></i><i style="left:1154px;background:linear-gradient(#440154 0px,#440154 432px,#470e61 589px)"></i><i style="left:1156px;background:linear-gradient(#440154 0px,#440256 423px,#471365 589px)"></i><i style="left:1158px;background:linear-gradient(#440256 0px,#450559 358px,#46085c 433px,#48186a 589px)"></i><i style="left:1160px;background:linear-gradient(#440154 0px,#440256 353px,#481668 512px,#481b6d 589px)"></i><i style="left:1162px;background:linear-gradient(#440154 0px,#440256 326px,#46085c 394px,#481668 474px,#481f70 589px)"></i><i style="left:1164px;background:linear-gradient(#440154 0px,#440256 310px,#481a6c 492px,#482071 589px)"></i><i style="left:1166px;background:linear-gradient(#440154 0px,#440256 312px,#460b5e 403px,#481668 458px,#482071 589px)"></i><i style="left:1168px;background:linear-gradient(#440154 0px,#440256 313px,#481f70 589px)"></i><i style="left:1170px;background:linear-gradient(#440154 0px,#440256 359px,#481c6e 589px)"></i><i style="left:1172px;background:linear-gradient(#440154 0px,#440256 398px,#481769 589px)"></i><i style="left:1174px;background:linear-gradient(#440154 0px,#450559 378px,#481668 589px)"></i><i style="left:1176px;background:linear-gradient(#440256 0px,#46085c 358px,#481a6c 589px)"></i><i style="left:1178px;background:linear-gradient(#440154 0px,#440256 298px,#46075a 398px,#471063 468px,#471365 589px)"></i><i style="left:1180px;background:linear-gradient(#440154 0px,#440256 309px,#471365 454px,#481467 589px)"></i><i style="left:1182px;background:linear-gradient(#440154 0px,#450559 316px,#481769 464px,#481769 589px)"></i><i style="left:1184px;background:linear-gradient(#440154 0px,#440256 291px,#481668 461px,#471164 539px,#471365 589px)"></i><i style="left:1186px;background:linear-gradient(#440154 0px,#440256 313px,#471365 459px,#470d60 589px)"></i><i style="left:1188px;background:linear-gradient(#440154 0px,#440154 316px,#471063 476px,#460b5e 589px)"></i><i style="left:1190px;background:linear-gradient(#440154 0px,#440154 354px,#460b5e 478px,#470d60 589px)"></i><i style="left:1192px;background:linear-gradient(#440154 0px,#440154 395px,#46085c 525px,#471164 589px)"></i><i style="left:1194px;background:linear-gradient(#440154 0px,#440154 433px,#450559 526px,#470e61 589px)"></i><i style="left:1196px;background:linear-gradient(#440154 0px,#440256 409px,#46075a 524px,#471063 589px)"></i><i style="left:1198px;background:linear-gradient(#440154 0px,#46085c 401px,#470e61 522px,#481769 589px)"></i><i style="left:1200px;background:linear-gradient(#440154 0px,#450559 473px,#481b6d 589px)"></i><i style="left:1202px;background:linear-gradient(#440154 0px,#440256 420px,#460b5e 495px,#482374 589px)"></i><i style="left:1204px;background:linear-gradient(#440154 0px,#440256 385px,#470e61 482px,#482374 553px,#482979 589px)"></i><i style="left:1206px;background:linear-gradient(#440154 0px,#440154 320px,#450559 389px,#481467 483px,#472c7a 560px,#46307e 589px)"></i><i style="left:1208px;background:linear-gradient(#440154 0px,#440154 291px,#450559 360px,#48186a 483px,#472a7a 540px,#463480 589px)"></i><i style="left:1210px;background:linear-gradient(#440154 0px,#450559 342px,#48186a 471px,#472a7a 532px,#453781 589px)"></i><i style="left:1212px;background:linear-gradient(#440154 0px,#450457 291px,#46085c 371px,#48186a 473px,#46327e 560px,#453581 589px)"></i><i style="left:1214px;background:linear-gradient(#440154 0px,#450457 301px,#46085c 389px,#48186a 489px,#472a7a 546px,#46327e 589px)"></i><i style="left:1216px;background:linear-gradient(#440154 0px,#440256 367px,#470e61 468px,#482576 550px,#472d7b 589px)"></i><i style="left:1218px;background:linear-gradient(#440154 0px,#440256 404px,#460b5e 481px,#482677 589px)"></i><i style="left:1220px;background:linear-gradient(#440154 0px,#440256 438px,#460b5e 509px,#481f70 589px)"></i><i style="left:1222px;background:linear-gradient(#440154 0px,#440256 448px,#46085c 516px,#48186a 589px)"></i><i style="left:1224px;background:linear-gradient(#440154 0px,#440256 447px,#46085c 530px,#48186a 589px)"></i><i style="left:1226px;background:linear-gradient(#440154 0px,#440154 357px,#450559 497px,#460b5e 526px,#482173 589px)"></i><i style="left:1228px;background:linear-gradient(#440154 0px,#450559 462px,#470e61 509px,#482878 563px,#46307e 589px)"></i><i style="left:1230px;background:linear-gradient(#440154 0px,#440154 379px,#450559 436px,#471164 492px,#46307e 549px,#424186 589px)"></i><i style="left:1232px;background:linear-gradient(#440154 0px,#440154 301px,#46085c 418px,#481d6f 497px,#443983 538px,#3d4d8a 573px,#3c508b 589px)"></i><i style="left:1234px;background:linear-gradient(#440154 0px,#440154 292px,#46085c 386px,#471365 439px,#482173 487px,#404588 538px,#38588c 570px,#365c8d 589px)"></i><i style="left:1236px;background:linear-gradient(#440154 0px,#440256 303px,#460b5e 387px,#482677 488px,#404588 531px,#38588c 558px,#34618d 589px)"></i><i style="left:1238px;background:linear-gradient(#440154 0px,#440256 300px,#460b5e 393px,#482576 489px,#404588 533px,#38588c 562px,#355f8d 589px)"></i><i style="left:1240px;background:linear-gradient(#440154 0px,#440154 293px,#46085c 402px,#481d6f 487px,#472f7d 517px,#404588 546px,#3b528b 570px,#39568c 589px)"></i><i style="left:1242px;background:linear-gradient(#440154 0px,#440154 352px,#450559 417px,#48186a 497px,#453581 544px,#414487 570px,#3e4989 589px)"></i><i style="left:1244px;background:linear-gradient(#440154 0px,#440256 426px,#470e61 497px,#482979 550px,#443983 589px)"></i><i style="left:1246px;background:linear-gradient(#440154 0px,#440256 463px,#460b5e 514px,#482979 589px)"></i><i style="left:1248px;background:linear-gradient(#440154 0px,#440154 474px,#46085c 530px,#481b6d 589px)"></i><i style="left:1250px;background:linear-gradient(#440154 0px,#440256 342px,#460b5e 538px,#481467 589px)"></i><i style="left:1252px;background:linear-gradient(#440256 0px,#46075a 345px,#481467 589px)"></i><i style="left:1254px;background:linear-gradient(#440154 0px,#450457 450px,#470d60 589px)"></i><i style="left:1256px;background:linear-gradient(#440154 0px,#440154 467px,#460b5e 589px)"></i><i style="left:1258px;background:linear-gradient(#440154 0px,#440256 416px,#450559 517px,#470e61 589px)"></i><i style="left:1260px;background:linear-gradient(#440154 0px,#450559 442px,#470e61 589px)"></i><i style="left:1262px;background:linear-gradient(#440154 0px,#440256 336px,#470e61 589px)"></i><i style="left:1264px;background:linear-gradient(#440154 0px,#440256 282px,#470d60 589px)"></i><i style="left:1266px;background:linear-gradient(#440154 0px,#450457 589px)"></i><i style="left:1268px;background:linear-gradient(#440154 0px,#440154 486px,#450559 589px)"></i><i style="left:1270px;background:linear-gradient(#440154 0px,#440256 471px,#470d60 589px)"></i><i style="left:1272px;background:linear-gradient(#440154 0px,#440256 361px,#46085c 488px,#471365 589px)"></i><i style="left:1274px;background:linear-gradient(#440154 0px,#450559 381px,#471365 589px)"></i><i style="left:1276px;background:linear-gradient(#440154 0px,#440154 321px,#471063 473px,#481668 589px)"></i><i style="left:1278px;background:linear-gradient(#440154 0px,#440256 308px,#481668 465px,#48186a 589px)"></i><i style="left:1280px;background:linear-gradient(#440154 0px,#440256 275px,#481a6c 473px,#481b6d 589px)"></i><i style="left:1282px;background:linear-gradient(#440154 0px,#440256 285px,#481668 432px,#481a6c 589px)"></i><i style="left:1284px;background:linear-gradient(#440154 0px,#440256 318px,#471365 454px,#48186a 589px)"></i><i style="left:1286px;background:linear-gradient(#440154 0px,#440256 359px,#481769 589px)"></i><i style="left:1288px;background:linear-gradient(#440154 0px,#440256 409px,#471365 589px)"></i><i style="left:1290px;background:linear-gradient(#440154 0px,#440256 444px,#470e61 589px)"></i><i style="left:1292px;background:linear-gradient(#440154 0px,#450559 350px,#471365 589px)"></i><i style="left:1294px;background:linear-gradient(#440154 0px,#440256 327px,#470e61 589px)"></i><i style="left:1296px;background:linear-gradient(#440154 0px,#450559 346px,#471164 589px)"></i><i style="left:1298px;background:linear-gradient(#440154 0px,#440256 454px,#470d60 589px)"></i><i style="left:1300px;background:linear-gradient(#440154 0px,#440256 393px,#460a5d 589px)"></i><i style="left:1302px;background:linear-gradient(#440154 0px,#450559 396px,#470d60 589px)"></i><i style="left:1304px;background:linear-gradient(#440154 0px,#450559 307px,#471365 589px)"></i><i style="left:1306px;background:linear-gradient(#440154 0px,#440256 384px,#471063 589px)"></i><i style="left:1308px;background:linear-gradient(#440154 0px,#440154 424px,#470e61 589px)"></i><i style="left:1310px;background:linear-gradient(#440154 0px,#440154 384px,#471164 589px)"></i><i style="left:1312px;background:linear-gradient(#440154 0px,#440154 333px,#471063 487px,#481467 589px)"></i><i style="left:1314px;background:linear-gradient(#440154 0px,#440256 308px,#481668 475px,#481a6c 589px)"></i><i style="left:1316px;background:linear-gradient(#440154 0px,#450559 309px,#481a6c 471px,#481b6d 589px)"></i><i style="left:1318px;background:linear-gradient(#440154 0px,#440256 279px,#481a6c 482px,#481b6d 589px)"></i><i style="left:1320px;background:linear-gradient(#440154 0px,#440256 280px,#46085c 378px,#481668 474px,#48186a 589px)"></i><i style="left:1322px;background:linear-gradient(#440154 0px,#440256 346px,#481668 589px)"></i><i style="left:1324px;background:linear-gradient(#440154 0px,#440154 384px,#471063 589px)"></i><i style="left:1326px;background:linear-gradient(#440154 0px,#440154 431px,#460b5e 589px)"></i><i style="left:1328px;background:linear-gradient(#440154 0px,#440256 457px,#46085c 589px)"></i><i style="left:1330px;background:linear-gradient(#440154 0px,#440154 507px,#450559 589px)"></i><i style="left:1332px;background:linear-gradient(#440154 0px,#440256 402px,#46075a 589px)"></i><i style="left:1334px;background:linear-gradient(#440154 0px,#450457 589px)"></i><i style="left:1336px;background:linear-gradient(#440154 0px,#440154 589px)"></i><i style="left:1338px;background:linear-gradient(#440154 0px,#450457 589px)"></i><i style="left:1340px;background:linear-gradient(#440154 0px,#450559 589px)"></i><i style="left:1342px;background:linear-gradient(#440154 0px,#450457 589px)"></i></div><svg width="1920" height="983" viewBox="0 0 1920 983">
<path d="M192 108.7L192.5 108.7L193.5 93.5L194.5 93.5L195.5 93.5L196.5 93.5L197.5 93.5L198.5 118.9L199.5 125.8L200.5 114.4L201.5 114.4L202.5 114.4L203.5 114.4L204.5 115.8L205.5 121.9L206.5 135.0L207.5 140.4L208.5 117.9L209.5 96.2L210.5 95.6L211.5 95.6L212.5 95.6L213.5 99.2L214.5 115.6L215.5 138.9L216.5 159.2L217.5 147.8L218.5 122.8L219.5 96.1L220.5 82.1L221.5 82.1L222.5 82.1L223.5 80.4L224.5 100.3L225.5 74.8L226.5 74.8L227.5 74.8L228.5 76.0L229.5 92.9L230.5 121.8L231.5 147.8L232.5 125.2L233.5 118.0L234.5 118.6L235.5 118.3L236.5 124.7L237.5 141.5L238.5 146.8L239.5 128.8L240.5 127.9L241.5 127.9L242.5 127.0L243.5 129.9L244.5 133.5L245.5 120.1L246.5 117.8L247.5 113.7L248.5 114.5L249.5 115.5L250.5 122.5L251.5 137.3L252.5 158.6L253.5 161.5L254.5 139.6L255.5 119.4L256.5 107.5L257.5 107.1L258.5 104.8L259.5 105.5L260.5 69.0L261.5 69.0L262.5 69.0L263.5 89.2L264.5 87.7L265.5 93.8L266.5 98.7L267.5 98.7L268.5 123.3L269.5 141.3L270.5 165.8L271.5 149.0L272.5 149.1L273.5 149.9L274.5 117.5L275.5 83.3L276.5 83.6L277.5 82.2L278.5 96.7L279.5 94.4L280.5 96.9L281.5 100.8L282.5 102.5L283.5 115.2L284.5 131.7L285.5 148.0L286.5 144.5L287.5 107.1L288.5 107.1L289.5 107.1L290.5 114.1L291.5 147.3L292.5 126.8L293.5 124.8L294.5 123.5L295.5 123.9L296.5 113.8L297.5 93.9L298.5 84.3L299.5 82.8L300.5 83.1L301.5 83.7L302.5 109.0L303.5 128.9L304.5 124.2L305.5 123.9L306.5 123.6L307.5 126.1L308.5 119.7L309.5 116.6L310.5 117.0L311.5 106.1L312.5 106.1L313.5 106.1L314.5 106.1L315.5 154.6L316.5 149.7L317.5 133.6L318.5 132.8L319.5 132.5L320.5 125.0L321.5 122.0L322.5 120.7L323.5 120.1L324.5 115.7L325.5 109.2L326.5 107.4L327.5 107.5L328.5 107.3L329.5 114.7L330.5 148.3L331.5 140.7L332.5 140.5L333.5 140.0L334.5 140.8L335.5 143.1L336.5 141.9L337.5 136.1L338.5 127.4L339.5 118.2L340.5 109.5L341.5 109.2L342.5 109.2L343.5 109.2L344.5 109.2L345.5 125.1L346.5 144.9L347.5 143.4L348.5 120.6L349.5 119.7L350.5 119.6L351.5 122.4L352.5 163.6L353.5 135.0L354.5 135.4L355.5 134.6L356.5 138.3L357.5 160.8L358.5 160.3L359.5 129.2L360.5 106.0L361.5 84.5L362.5 84.1L363.5 84.1L364.5 84.1L365.5 101.0L366.5 122.8L367.5 122.2L368.5 122.3L369.5 125.6L370.5 138.3L371.5 150.6L372.5 154.3L373.5 121.1L374.5 100.8L375.5 100.8L376.5 100.8L377.5 104.9L378.5 128.0L379.5 117.8L380.5 114.1L381.5 113.8L382.5 113.0L383.5 114.4L384.5 128.4L385.5 155.3L386.5 169.9L387.5 156.9L388.5 145.7L389.5 134.9L390.5 128.8L391.5 121.2L392.5 120.3L393.5 119.5L394.5 119.2L395.5 125.6L396.5 136.0L397.5 143.3L398.5 150.1L399.5 155.9L400.5 148.0L401.5 136.3L402.5 120.2L403.5 117.5L404.5 117.5L405.5 117.5L406.5 121.2L407.5 122.4L408.5 135.8L409.5 148.6L410.5 161.6L411.5 170.0L412.5 145.4L413.5 142.7L414.5 143.2L415.5 141.7L416.5 156.0L417.5 113.7L418.5 72.0L419.5 57.0L420.5 57.5L421.5 57.5L422.5 57.0L423.5 62.4L424.5 120.3L425.5 191.6L426.5 154.9L427.5 114.1L428.5 107.3L429.5 96.6L430.5 94.6L431.5 94.6L432.5 94.6L433.5 97.3L434.5 113.2L435.5 134.8L436.5 122.6L437.5 122.6L438.5 122.6L439.5 122.8L440.5 142.2L441.5 173.8L442.5 170.7L443.5 171.0L444.5 171.6L445.5 142.1L446.5 114.3L447.5 97.4L448.5 83.1L449.5 83.1L450.5 83.1L451.5 83.1L452.5 83.1L453.5 96.4L454.5 119.8L455.5 142.8L456.5 164.0L457.5 154.5L458.5 144.8L459.5 140.4L460.5 133.7L461.5 121.0L462.5 117.5L463.5 116.6L464.5 117.9L465.5 103.3L466.5 77.9L467.5 77.9L468.5 77.9L469.5 86.8L470.5 144.3L471.5 151.0L472.5 130.8L473.5 118.5L474.5 117.0L475.5 117.0L476.5 117.0L477.5 119.0L478.5 144.6L479.5 168.5L480.5 171.2L481.5 171.6L482.5 146.7L483.5 104.1L484.5 73.0L485.5 61.3L486.5 61.3L487.5 61.3L488.5 87.3L489.5 103.7L490.5 100.8L491.5 100.8L492.5 100.8L493.5 107.8L494.5 124.5L495.5 144.9L496.5 131.7L497.5 125.8L498.5 125.8L499.5 125.8L500.5 125.8L501.5 136.9L502.5 158.4L503.5 141.4L504.5 116.5L505.5 115.4L506.5 107.7L507.5 103.0L508.5 100.8L509.5 100.8L510.5 100.8L511.5 100.8L512.5 105.1L513.5 120.7L514.5 131.9L515.5 143.4L516.5 155.4L517.5 164.5L518.5 138.2L519.5 135.8L520.5 136.6L521.5 136.2L522.5 135.5L523.5 128.6L524.5 126.8L525.5 126.8L526.5 126.2L527.5 129.0L528.5 145.7L529.5 152.0L530.5 133.3L531.5 116.0L532.5 101.8L533.5 88.8L534.5 84.5L535.5 85.2L536.5 86.4L537.5 105.9L538.5 111.1L539.5 110.6L540.5 111.3L541.5 116.5L542.5 108.9L543.5 106.0L544.5 106.0L545.5 106.0L546.5 113.4L547.5 129.7L548.5 144.6L549.5 163.5L550.5 168.3L551.5 136.5L552.5 112.5L553.5 107.1L554.5 107.1L555.5 107.1L556.5 117.4L557.5 138.7L558.5 150.9L559.5 143.6L560.5 132.0L561.5 122.3L562.5 121.2L563.5 120.7L564.5 121.0L565.5 120.8L566.5 121.3L567.5 122.7L568.5 128.4L569.5 134.2L570.5 141.0L571.5 150.0L572.5 150.8L573.5 126.7L574.5 98.8L575.5 85.5L576.5 82.1L577.5 82.1L578.5 82.1L579.5 96.0L580.5 132.0L581.5 88.2L582.5 86.2L583.5 86.2L584.5 86.2L585.5 113.6L586.5 158.2L587.5 164.2L588.5 147.7L589.5 131.5L590.5 117.8L591.5 117.0L592.5 116.5L593.5 116.8L594.5 124.4L595.5 132.6L596.5 139.0L597.5 150.2L598.5 157.3L599.5 125.2L600.5 113.8L601.5 106.4L602.5 94.6L603.5 94.6L604.5 94.6L605.5 94.6L606.5 94.6L607.5 109.9L608.5 150.0L609.5 102.9L610.5 86.0L611.5 86.4L612.5 87.9L613.5 122.4L614.5 121.2L615.5 113.3L616.5 104.2L617.5 101.8L618.5 101.3L619.5 101.5L620.5 113.6L621.5 145.7L622.5 164.4L623.5 158.4L624.5 157.2L625.5 155.2L626.5 136.6L627.5 136.3L628.5 130.6L629.5 130.4L630.5 58.8L631.5 58.1L632.5 58.1L633.5 58.1L634.5 87.7L635.5 127.4L636.5 121.0L637.5 124.8L638.5 124.8L639.5 127.8L640.5 129.1L641.5 134.2L642.5 134.2L643.5 137.9L644.5 152.0L645.5 134.2L646.5 119.8L647.5 113.2L648.5 100.0L649.5 97.7L650.5 97.7L651.5 97.7L652.5 97.7L653.5 100.2L654.5 116.4L655.5 136.4L656.5 155.7L657.5 118.6L658.5 118.6L659.5 119.0L660.5 123.5L661.5 125.1L662.5 113.2L663.5 112.5L664.5 112.8L665.5 115.4L666.5 120.3L667.5 134.6L668.5 149.9L669.5 152.7L670.5 135.7L671.5 136.9L672.5 137.0L673.5 138.2L674.5 136.8L675.5 124.4L676.5 124.9L677.5 123.1L678.5 123.5L679.5 124.7L680.5 126.1L681.5 126.6L682.5 125.8L683.5 129.0L684.5 135.5L685.5 109.3L686.5 93.9L687.5 93.4L688.5 94.0L689.5 111.8L690.5 112.0L691.5 111.4L692.5 115.5L693.5 134.9L694.5 127.6L695.5 127.9L696.5 127.8L697.5 127.5L698.5 133.2L699.5 118.0L700.5 104.4L701.5 101.9L702.5 101.9L703.5 101.9L704.5 101.9L705.5 106.8L706.5 112.7L707.5 119.9L708.5 130.0L709.5 138.0L710.5 143.3L711.5 152.8L712.5 146.9L713.5 146.5L714.5 138.8L715.5 129.8L716.5 120.0L717.5 115.8L718.5 114.7L719.5 114.1L720.5 114.1L721.5 119.7L722.5 129.4L723.5 136.2L724.5 144.7L725.5 151.9L726.5 140.6L727.5 127.2L728.5 116.8L729.5 114.6L730.5 114.4L731.5 113.8L732.5 125.1L733.5 144.3L734.5 140.4L735.5 131.5L736.5 121.1L737.5 118.5L738.5 118.9L739.5 119.2L740.5 119.8L741.5 121.5L742.5 143.3L743.5 144.1L744.5 134.2L745.5 134.5L746.5 133.0L747.5 135.7L748.5 126.9L749.5 116.9L750.5 116.5L751.5 117.5L752.5 119.0L753.5 125.9L754.5 146.3L755.5 145.8L756.5 123.8L757.5 112.6L758.5 113.3L759.5 113.6L760.5 117.8L761.5 129.7L762.5 136.0L763.5 145.6L764.5 161.7L765.5 169.6L766.5 177.7L767.5 166.4L768.5 141.2L769.5 120.6L770.5 115.9L771.5 115.4L772.5 115.4L773.5 115.4L774.5 115.4L775.5 115.6L776.5 116.3L777.5 130.4L778.5 145.3L779.5 132.1L780.5 127.9L781.5 127.9L782.5 127.9L783.5 127.9L784.5 133.0L785.5 139.0L786.5 148.9L787.5 155.4L788.5 143.5L789.5 131.0L790.5 121.7L791.5 121.7L792.5 121.7L793.5 121.7L794.5 124.0L795.5 127.4L796.5 136.6L797.5 129.0L798.5 127.9L799.5 127.9L800.5 127.9L801.5 127.9L802.5 127.9L803.5 133.1L804.5 149.0L805.5 154.5L806.5 163.9L807.5 142.1L808.5 101.8L809.5 90.2L810.5 90.8L811.5 89.9L812.5 92.4L813.5 104.5L814.5 124.0L815.5 144.1L816.5 154.3L817.5 152.7L818.5 148.0L819.5 147.8L820.5 147.7L821.5 151.3L822.5 165.8L823.5 145.2L824.5 116.6L825.5 112.6L826.5 112.2L827.5 112.8L828.5 128.5L829.5 127.5L830.5 128.5L831.5 130.4L832.5 130.0L833.5 137.4L834.5 149.5L835.5 156.7L836.5 166.4L837.5 156.7L838.5 139.4L839.5 130.3L840.5 121.5L841.5 116.1L842.5 115.6L843.5 115.3L844.5 118.4L845.5 121.9L846.5 133.1L847.5 148.4L848.5 161.6L849.5 161.2L850.5 160.7L851.5 159.1L852.5 160.8L853.5 157.7L854.5 143.6L855.5 131.0L856.5 118.1L857.5 116.7L858.5 118.4L859.5 119.6L860.5 126.6L861.5 128.7L862.5 114.8L863.5 116.0L864.5 116.6L865.5 118.3L866.5 126.0L867.5 128.8L868.5 132.7L869.5 133.7L870.5 134.1L871.5 138.0L872.5 132.1L873.5 126.9L874.5 126.9L875.5 126.9L876.5 126.9L877.5 139.2L878.5 144.1L879.5 144.9L880.5 145.7L881.5 146.0L882.5 145.5L883.5 146.3L884.5 147.7L885.5 148.3L886.5 147.1L887.5 149.3L888.5 154.6L889.5 158.6L890.5 152.1L891.5 143.9L892.5 134.8L893.5 121.7L894.5 121.7L895.5 121.7L896.5 121.7L897.5 124.0L898.5 123.6L899.5 126.6L900.5 129.0L901.5 135.6L902.5 144.4L903.5 153.7L904.5 151.1L905.5 146.8L906.5 141.5L907.5 141.5L908.5 141.5L909.5 142.0L910.5 145.5L911.5 160.4L912.5 136.4L913.5 102.3L914.5 100.5L915.5 100.5L916.5 101.1L917.5 107.8L918.5 125.7L919.5 142.7L920.5 147.6L921.5 146.7L922.5 139.4L923.5 133.2L924.5 116.6L925.5 111.2L926.5 113.1L927.5 113.6L928.5 115.3L929.5 122.6L930.5 127.6L931.5 127.0L932.5 130.6L933.5 141.8L934.5 161.8L935.5 185.6L936.5 149.3L937.5 134.2L938.5 134.2L939.5 134.2L940.5 135.7L941.5 140.6L942.5 137.8L943.5 137.9L944.5 133.0L945.5 133.1L946.5 132.6L947.5 131.9L948.5 130.6L949.5 126.5L950.5 121.6L951.5 120.6L952.5 120.6L953.5 120.6L954.5 120.6L955.5 120.6L956.5 120.6L957.5 120.6L958.5 120.7L959.5 121.1L960.5 122.2L961.5 125.8L962.5 137.5L963.5 151.4L964.5 158.5L965.5 162.4L966.5 150.9L967.5 149.9L968.5 144.0L969.5 138.5L970.5 127.0L971.5 114.9L972.5 114.4L973.5 114.4L974.5 114.4L975.5 117.1L976.5 133.3L977.5 154.4L978.5 176.6L979.5 160.3L980.5 143.0L981.5 130.4L982.5 125.8L983.5 125.8L984.5 125.8L985.5 126.4L986.5 131.4L987.5 135.0L988.5 133.1L989.5 133.0L990.5 132.8L991.5 137.4L992.5 144.1L993.5 146.9L994.5 148.0L995.5 133.4L996.5 130.4L997.5 130.0L998.5 129.3L999.5 136.9L1000.5 150.0L1001.5 156.6L1002.5 156.5L1003.5 151.0L1004.5 144.2L1005.5 133.3L1006.5 129.1L1007.5 129.3L1008.5 126.5L1009.5 127.9L1010.5 127.7L1011.5 135.1L1012.5 135.6L1013.5 134.4L1014.5 136.5L1015.5 142.1L1016.5 148.4L1017.5 155.5L1018.5 152.8L1019.5 153.9L1020.5 155.0L1021.5 155.0L1022.5 155.0L1023.5 152.0L1024.5 152.4L1025.5 151.3L1026.5 151.6L1027.5 151.7L1028.5 147.8L1029.5 142.7L1030.5 140.1L1031.5 133.7L1032.5 133.1L1033.5 129.7L1034.5 124.8L1035.5 124.8L1036.5 124.8L1037.5 124.8L1038.5 126.5L1039.5 135.9L1040.5 136.3L1041.5 138.2L1042.5 145.3L1043.5 144.1L1044.5 143.6L1045.5 143.9L1046.5 139.5L1047.5 139.1L1048.5 138.2L1049.5 136.4L1050.5 135.2L1051.5 135.0L1052.5 133.6L1053.5 131.3L1054.5 127.5L1055.5 125.9L1056.5 124.8L1057.5 124.8L1058.5 125.9L1059.5 125.7L1060.5 130.4L1061.5 132.9L1062.5 137.1L1063.5 138.3L1064.5 137.0L1065.5 141.6L1066.5 142.6L1067.5 144.1L1068.5 149.5L1069.5 151.3L1070.5 145.5L1071.5 144.5L1072.5 144.2L1073.5 143.6L1074.5 149.0L1075.5 149.6L1076.5 145.2L1077.5 144.0L1078.5 143.5L1079.5 142.7L1080.5 142.7L1081.5 142.9L1082.5 143.8L1083.5 145.3L1084.5 146.1L1085.5 147.2L1086.5 147.9L1087.5 151.3L1088.5 147.2L1089.5 145.9L1090.5 145.6L1091.5 143.4L1092.5 137.1L1093.5 136.3L1094.5 136.3L1095.5 136.3L1096.5 136.3L1097.5 136.3L1098.5 136.4L1099.5 141.2L1100.5 150.2L1101.5 147.8L1102.5 143.5L1103.5 142.1L1104.5 141.8L1105.5 142.0L1106.5 142.4L1107.5 141.2L1108.5 140.8L1109.5 140.0L1110.5 138.6L1111.5 138.2L1112.5 137.7L1113.5 135.0L1114.5 133.2L1115.5 132.6L1116.5 132.0L1117.5 131.5L1118.5 133.0L1119.5 137.0L1120.5 133.1L1121.5 132.4L1122.5 132.0L1123.5 132.7L1124.5 137.0L1125.5 134.8L1126.5 130.6L1127.5 130.6L1128.5 130.8L1129.5 131.4L1130.5 132.2L1131.5 132.9L1132.5 133.6L1133.5 134.4L1134.5 135.2L1135.5 135.6L1136.5 134.7L1137.5 134.2L1138.5 136.2L1139.5 134.2L1140.5 134.2L1141.5 134.2L1142.5 134.2L1143.5 135.7L1144.5 138.9L1145.5 137.8L1146.5 138.8L1147.5 142.4L1148.5 138.7L1149.5 139.1L1150.5 138.1L1151.5 136.9L1152.5 135.6L1153.5 136.6L1154.5 136.2L1155.5 132.9L1156.5 132.1L1157.5 132.1L1158.5 132.1L1159.5 132.1L1160.5 132.1L1161.5 132.1L1162.5 132.1L1163.5 132.2L1164.5 133.2L1165.5 133.2L1166.5 133.1L1167.5 133.1L1168.5 133.1L1169.5 133.1L1170.5 133.1L1171.5 133.1L1172.5 133.1L1173.5 135.2L1174.5 137.3L1175.5 136.9L1176.5 135.9L1177.5 136.6L1178.5 137.8L1179.5 139.0L1180.5 142.6L1181.5 143.3L1182.5 140.6L1183.5 139.4L1184.5 139.4L1185.5 139.4L1186.5 140.0L1187.5 140.6L1188.5 143.3L1189.5 142.4L1190.5 142.6L1191.5 141.8L1192.5 141.1L1193.5 140.5L1194.5 141.1L1195.5 141.7L1196.5 142.4L1197.5 141.6L1198.5 142.3L1199.5 147.4L1200.5 142.5L1201.5 137.5L1202.5 137.1L1203.5 136.7L1204.5 136.9L1205.5 137.0L1206.5 136.7L1207.5 133.9L1208.5 134.5L1209.5 132.7L1210.5 132.9L1211.5 132.0L1212.5 132.3L1213.5 132.8L1214.5 131.0L1215.5 131.0L1216.5 131.0L1217.5 131.0L1218.5 131.8L1219.5 136.5L1220.5 138.3L1221.5 140.1L1222.5 143.1L1223.5 141.3L1224.5 142.8L1225.5 147.1L1226.5 147.0L1227.5 146.3L1228.5 145.3L1229.5 139.3L1230.5 136.8L1231.5 134.6L1232.5 134.1L1233.5 131.2L1234.5 130.4L1235.5 127.9L1236.5 126.3L1237.5 124.9L1238.5 123.8L1239.5 123.0L1240.5 122.7L1241.5 122.7L1242.5 122.7L1243.5 122.7L1244.5 122.7L1245.5 125.5L1246.5 131.7L1247.5 130.5L1248.5 133.4L1249.5 139.6L1250.5 139.3L1251.5 136.0L1252.5 129.0L1253.5 129.0L1254.5 129.0L1255.5 129.0L1256.5 129.0L1257.5 129.0L1258.5 129.0L1259.5 129.1L1260.5 130.2L1261.5 131.6L1262.5 133.2L1263.5 134.2L1264.5 136.2L1265.5 134.4L1266.5 134.2L1267.5 134.2L1268.5 134.2L1269.5 134.2L1270.5 134.6L1271.5 135.5L1272.5 136.7L1273.5 137.8L1274.5 136.2L1275.5 134.6L1276.5 136.2L1277.5 131.1L1278.5 128.7L1279.5 128.1L1280.5 129.9L1281.5 131.3L1282.5 127.4L1283.5 127.2L1284.5 125.6L1285.5 126.6L1286.5 128.8L1287.5 128.9L1288.5 131.6L1289.5 130.1L1290.5 130.7L1291.5 131.1L1292.5 133.6L1293.5 136.3L1294.5 139.4L1295.5 138.4L1296.5 139.3L1297.5 141.1L1298.5 141.6L1299.5 141.0L1300.5 144.7L1301.5 143.3L1302.5 142.5L1303.5 140.3L1304.5 139.5L1305.5 139.3L1306.5 139.1L1307.5 138.8L1308.5 138.3L1309.5 137.4L1310.5 136.3L1311.5 138.2L1312.5 138.9L1313.5 139.6L1314.5 133.7L1315.5 130.3L1316.5 130.0L1317.5 130.0L1318.5 130.3L1319.5 130.6L1320.5 130.0L1321.5 130.0L1322.5 130.0L1323.5 130.9L1324.5 134.5L1325.5 137.1L1326.5 139.6L1327.5 142.2L1328.5 142.0L1329.5 143.7L1330.5 146.8L1331.5 147.4L1332.5 140.2L1333.5 136.7L1334.5 132.3L1335.5 132.5L1336.5 133.2L1337.5 134.1L1338.5 132.4L1339.5 133.4L1340.5 133.8L1341.5 133.2L1342.5 133.5L1343.5 138.4L1344.5 144.9L1345.5 144.7L1346.5 143.0L1347.5 139.0L1348.5 136.2L1349.5 134.7L1350.5 136.4L1351.5 136.5L1352.5 137.2L1353.5 137.3L1354.5 136.5L1355.5 135.7L1356.5 129.9L1357.5 117.8L1358.5 110.3L1359.5 110.2L1360.5 110.2L1361.5 114.7L1362.5 125.2L1363.5 130.7L1364.5 140.1L1365.5 133.8L1366.5 126.2L1367.5 121.7L1368.5 121.7L1369.5 121.7L1370.5 121.7L1371.5 121.7L1372.5 121.7L1373.5 122.5L1374.5 124.9L1375.5 127.5L1376.5 127.9L1377.5 127.9L1378.5 127.9L1379.5 127.9L1380.5 127.9L1381.5 132.9L1382.5 137.3L1383.5 138.5L1384.5 144.4L1385.5 141.5L1386.5 140.4L1387.5 140.4L1388.5 140.4L1389.5 140.4L1390.5 140.4L1391.5 140.4L1392.5 140.7L1393.5 141.5L1394.5 142.5L1395.5 143.8L1396.5 145.1L1397.5 145.7L1398.5 149.5L1399.5 141.2L1400.5 134.3L1401.5 124.6L1402.5 124.3L1403.5 124.9L1404.5 125.7L1405.5 129.7L1406.5 137.2L1407.5 129.8L1408.5 129.8L1409.5 129.9L1410.5 126.3L1411.5 126.0L1412.5 124.6L1413.5 122.4L1414.5 119.6L1415.5 120.5L1416.5 119.6L1417.5 121.3L1418.5 127.4L1419.5 134.4L1420.5 135.0L1421.5 137.0L1422.5 136.0L1423.5 131.1L1424.5 130.8L1425.5 131.2L1426.5 130.3L1427.5 128.7L1428.5 120.4L1429.5 118.5L1430.5 118.5L1431.5 118.5L1432.5 118.5L1433.5 119.5L1434.5 139.2L1435.5 126.0L1436.5 115.4L1437.5 115.4L1438.5 115.4L1439.5 115.4L1440.5 115.4L1441.5 121.6L1442.5 131.1L1443.5 141.1L1444.5 149.2L1445.5 143.3L1446.5 140.3L1447.5 136.7L1448.5 133.1L1449.5 133.1L1450.5 133.1L1451.5 133.1L1452.5 133.1L1453.5 133.1L1454.5 131.6L1455.5 126.5L1456.5 125.9L1457.5 123.7L1458.5 123.7L1459.5 123.7L1460.5 123.7L1461.5 123.7L1462.5 126.5L1463.5 129.0L1464.5 133.3L1465.5 133.9L1466.5 139.5L1467.5 142.7L1468.5 141.5L1469.5 139.4L1470.5 140.0L1471.5 140.4L1472.5 140.8L1473.5 141.1L1474.5 149.4L1475.5 153.9L1476.5 154.6L1477.5 154.2L1478.5 149.6L1479.5 150.1L1480.5 144.6L1481.5 136.2L1482.5 135.8L1483.5 136.8L1484.5 136.3L1485.5 135.4L1486.5 132.3L1487.5 132.3L1488.5 132.3L1489.5 132.3L1490.5 132.3L1491.5 132.3L1492.5 132.3L1493.5 133.5L1494.5 140.5L1495.5 146.0L1496.5 146.8L1497.5 149.0L1498.5 146.1L1499.5 145.2L1500.5 139.1L1501.5 134.9L1502.5 130.4L1503.5 129.8L1504.5 124.8L1505.5 124.8L1506.5 124.8L1507.5 124.8L1508.5 124.8L1509.5 128.4L1510.5 128.6L1511.5 128.0L1512.5 128.5L1513.5 128.2L1514.5 129.5L1515.5 130.6L1516.5 130.7L1517.5 134.1L1518.5 136.3L1519.5 138.8L1520.5 142.3L1521.5 144.2L1522.5 143.7L1523.5 144.8L1524.5 141.5L1525.5 141.6L1526.5 141.6L1527.5 142.2L1528.5 139.8L1529.5 138.9L1530.5 139.2L1531.5 141.5L1532.5 138.5L1533.5 130.8L1534.5 129.9L1535.5 129.9L1536 129.9L1536 140.5L1535.5 140.5L1534.5 149.5L1533.5 150.7L1532.5 151.5L1531.5 151.8L1530.5 151.9L1529.5 151.9L1528.5 151.9L1527.5 151.9L1526.5 152.1L1525.5 154.0L1524.5 155.6L1523.5 155.5L1522.5 155.3L1521.5 155.3L1520.5 152.1L1519.5 151.1L1518.5 148.0L1517.5 148.2L1516.5 146.8L1515.5 146.7L1514.5 140.9L1513.5 140.1L1512.5 140.9L1511.5 137.7L1510.5 139.1L1509.5 139.2L1508.5 138.0L1507.5 137.3L1506.5 135.8L1505.5 141.5L1504.5 141.0L1503.5 143.2L1502.5 146.9L1501.5 152.3L1500.5 155.0L1499.5 155.0L1498.5 155.0L1497.5 155.0L1496.5 155.0L1495.5 155.0L1494.5 154.8L1493.5 154.3L1492.5 153.6L1491.5 145.6L1490.5 139.8L1489.5 139.7L1488.5 141.2L1487.5 144.1L1486.5 145.9L1485.5 147.2L1484.5 146.3L1483.5 145.7L1482.5 155.9L1481.5 158.0L1480.5 159.0L1479.5 159.2L1478.5 159.2L1477.5 159.2L1476.5 159.2L1475.5 159.2L1474.5 159.2L1473.5 159.2L1472.5 158.1L1471.5 152.5L1470.5 149.5L1469.5 151.6L1468.5 150.8L1467.5 150.3L1466.5 149.9L1465.5 149.6L1464.5 149.1L1463.5 144.0L1462.5 140.7L1461.5 137.4L1460.5 136.8L1459.5 131.8L1458.5 134.1L1457.5 133.8L1456.5 141.7L1455.5 143.5L1454.5 143.6L1453.5 143.2L1452.5 144.1L1451.5 138.6L1450.5 141.6L1449.5 147.3L1448.5 147.5L1447.5 153.7L1446.5 156.0L1445.5 156.0L1444.5 156.0L1443.5 156.0L1442.5 156.0L1441.5 149.3L1440.5 142.2L1439.5 131.3L1438.5 124.1L1437.5 143.0L1436.5 157.0L1435.5 158.1L1434.5 158.1L1433.5 158.1L1432.5 154.4L1431.5 137.5L1430.5 132.2L1429.5 136.6L1428.5 138.6L1427.5 142.9L1426.5 143.4L1425.5 145.2L1424.5 145.0L1423.5 146.3L1422.5 145.7L1421.5 146.1L1420.5 145.4L1419.5 143.2L1418.5 142.0L1417.5 142.2L1416.5 140.5L1415.5 132.8L1414.5 133.2L1413.5 133.0L1412.5 133.0L1411.5 140.0L1410.5 141.2L1409.5 141.4L1408.5 149.2L1407.5 151.9L1406.5 150.9L1405.5 150.5L1404.5 150.0L1403.5 140.5L1402.5 144.6L1401.5 150.7L1400.5 159.2L1399.5 159.2L1398.5 159.2L1397.5 159.2L1396.5 158.4L1395.5 154.5L1394.5 151.2L1393.5 153.2L1392.5 150.8L1391.5 150.2L1390.5 145.4L1389.5 145.2L1388.5 144.3L1387.5 149.7L1386.5 152.9L1385.5 152.9L1384.5 152.9L1383.5 152.9L1382.5 152.6L1381.5 150.4L1380.5 142.5L1379.5 140.5L1378.5 137.6L1377.5 132.5L1376.5 132.0L1375.5 133.3L1374.5 132.8L1373.5 128.6L1372.5 127.5L1371.5 130.6L1370.5 132.0L1369.5 132.8L1368.5 137.0L1367.5 145.7L1366.5 150.5L1365.5 154.0L1364.5 155.1L1363.5 155.9L1362.5 155.7L1361.5 145.1L1360.5 135.6L1359.5 131.1L1358.5 141.9L1357.5 141.4L1356.5 141.4L1355.5 141.4L1354.5 141.9L1353.5 143.3L1352.5 144.9L1351.5 145.5L1350.5 145.4L1349.5 147.0L1348.5 149.7L1347.5 149.8L1346.5 149.8L1345.5 149.8L1344.5 149.8L1343.5 149.8L1342.5 149.8L1341.5 149.8L1340.5 144.4L1339.5 145.7L1338.5 146.0L1337.5 144.9L1336.5 146.5L1335.5 146.5L1334.5 149.0L1333.5 149.7L1332.5 149.8L1331.5 149.8L1330.5 149.8L1329.5 149.8L1328.5 149.8L1327.5 149.8L1326.5 149.5L1325.5 149.4L1324.5 146.4L1323.5 145.7L1322.5 143.8L1321.5 142.5L1320.5 142.8L1319.5 141.7L1318.5 142.0L1317.5 139.2L1316.5 143.5L1315.5 146.9L1314.5 147.6L1313.5 147.9L1312.5 148.2L1311.5 148.4L1310.5 146.4L1309.5 147.3L1308.5 148.5L1307.5 147.7L1306.5 148.8L1305.5 149.8L1304.5 150.4L1303.5 151.3L1302.5 152.1L1301.5 152.7L1300.5 152.9L1299.5 152.9L1298.5 152.9L1297.5 150.7L1296.5 148.9L1295.5 149.6L1294.5 149.2L1293.5 146.3L1292.5 147.4L1291.5 143.2L1290.5 141.1L1289.5 142.0L1288.5 143.9L1287.5 143.1L1286.5 140.9L1285.5 138.9L1284.5 138.9L1283.5 139.4L1282.5 142.0L1281.5 142.2L1280.5 141.7L1279.5 141.4L1278.5 147.7L1277.5 148.3L1276.5 147.0L1275.5 146.6L1274.5 146.8L1273.5 148.8L1272.5 149.8L1271.5 149.2L1270.5 148.2L1269.5 142.9L1268.5 140.6L1267.5 140.6L1266.5 144.0L1265.5 145.1L1264.5 144.0L1263.5 143.5L1262.5 143.5L1261.5 143.0L1260.5 139.6L1259.5 139.5L1258.5 138.3L1257.5 135.5L1256.5 135.3L1255.5 133.0L1254.5 136.9L1253.5 147.5L1252.5 146.6L1251.5 147.5L1250.5 151.9L1249.5 151.9L1248.5 151.9L1247.5 151.9L1246.5 143.9L1245.5 140.8L1244.5 140.7L1243.5 135.4L1242.5 127.0L1241.5 127.3L1240.5 125.4L1239.5 129.5L1238.5 132.0L1237.5 135.8L1236.5 141.5L1235.5 142.1L1234.5 141.7L1233.5 141.8L1232.5 143.3L1231.5 148.4L1230.5 152.4L1229.5 152.4L1228.5 153.3L1227.5 155.0L1226.5 154.4L1225.5 154.3L1224.5 153.8L1223.5 153.8L1222.5 152.1L1221.5 151.8L1220.5 151.2L1219.5 147.4L1218.5 147.0L1217.5 142.1L1216.5 139.4L1215.5 141.3L1214.5 141.6L1213.5 142.1L1212.5 142.6L1211.5 140.7L1210.5 141.1L1209.5 142.2L1208.5 143.7L1207.5 144.7L1206.5 144.8L1205.5 145.7L1204.5 146.1L1203.5 146.2L1202.5 152.1L1201.5 152.7L1200.5 152.9L1199.5 152.9L1198.5 152.9L1197.5 152.9L1196.5 152.9L1195.5 151.7L1194.5 152.9L1193.5 152.6L1192.5 152.4L1191.5 150.6L1190.5 149.6L1189.5 151.1L1188.5 150.4L1187.5 150.2L1186.5 151.1L1185.5 150.0L1184.5 149.3L1183.5 150.6L1182.5 151.3L1181.5 151.5L1180.5 151.9L1179.5 151.1L1178.5 150.2L1177.5 148.6L1176.5 145.3L1175.5 146.8L1174.5 145.6L1173.5 146.3L1172.5 145.3L1171.5 141.6L1170.5 139.6L1169.5 140.2L1168.5 138.7L1167.5 139.2L1166.5 138.4L1165.5 139.2L1164.5 140.9L1163.5 140.4L1162.5 137.4L1161.5 138.3L1160.5 140.0L1159.5 141.0L1158.5 140.3L1157.5 141.8L1156.5 143.9L1155.5 144.7L1154.5 147.6L1153.5 148.0L1152.5 146.9L1151.5 145.1L1150.5 144.5L1149.5 148.2L1148.5 149.2L1147.5 149.2L1146.5 149.2L1145.5 149.2L1144.5 146.4L1143.5 146.3L1142.5 145.0L1141.5 142.0L1140.5 143.6L1139.5 146.6L1138.5 146.6L1137.5 146.6L1136.5 146.6L1135.5 142.9L1134.5 142.8L1133.5 143.3L1132.5 141.5L1131.5 139.9L1130.5 140.6L1129.5 140.2L1128.5 140.7L1127.5 141.5L1126.5 142.6L1125.5 142.3L1124.5 141.6L1123.5 140.8L1122.5 141.3L1121.5 141.9L1120.5 142.6L1119.5 143.5L1118.5 145.0L1117.5 146.7L1116.5 143.5L1115.5 144.4L1114.5 147.4L1113.5 147.4L1112.5 147.6L1111.5 147.6L1110.5 149.1L1109.5 149.8L1108.5 151.7L1107.5 153.4L1106.5 154.3L1105.5 156.0L1104.5 152.3L1103.5 158.9L1102.5 159.2L1101.5 159.2L1100.5 159.2L1099.5 159.2L1098.5 159.2L1097.5 154.6L1096.5 145.5L1095.5 141.7L1094.5 145.9L1093.5 152.5L1092.5 152.1L1091.5 150.6L1090.5 152.5L1089.5 156.9L1088.5 157.1L1087.5 157.1L1086.5 157.1L1085.5 157.1L1084.5 157.1L1083.5 153.1L1082.5 153.9L1081.5 155.8L1080.5 154.7L1079.5 153.5L1078.5 151.7L1077.5 154.5L1076.5 153.4L1075.5 154.1L1074.5 155.7L1073.5 157.8L1072.5 158.4L1071.5 158.8L1070.5 162.3L1069.5 162.3L1068.5 162.3L1067.5 162.2L1066.5 159.8L1065.5 153.1L1064.5 152.0L1063.5 151.7L1062.5 147.4L1061.5 146.9L1060.5 144.8L1059.5 140.9L1058.5 137.3L1057.5 134.8L1056.5 139.1L1055.5 140.9L1054.5 145.0L1053.5 148.3L1052.5 147.8L1051.5 148.1L1050.5 149.1L1049.5 149.3L1048.5 148.7L1047.5 151.8L1046.5 150.3L1045.5 152.9L1044.5 155.8L1043.5 156.0L1042.5 156.1L1041.5 156.4L1040.5 153.9L1039.5 148.2L1038.5 145.7L1037.5 143.3L1036.5 137.5L1035.5 139.6L1034.5 141.5L1033.5 143.9L1032.5 149.6L1031.5 151.3L1030.5 157.5L1029.5 160.2L1028.5 161.9L1027.5 161.1L1026.5 162.6L1025.5 171.5L1024.5 171.7L1023.5 171.7L1022.5 169.9L1021.5 157.6L1020.5 160.9L1019.5 166.0L1018.5 167.5L1017.5 166.9L1016.5 168.2L1015.5 166.3L1014.5 160.2L1013.5 153.1L1012.5 148.3L1011.5 144.3L1010.5 143.2L1009.5 142.3L1008.5 136.8L1007.5 145.0L1006.5 153.0L1005.5 160.8L1004.5 164.9L1003.5 169.2L1002.5 169.5L1001.5 168.1L1000.5 166.3L999.5 165.2L998.5 158.9L997.5 149.7L996.5 160.3L995.5 162.4L994.5 163.1L993.5 162.9L992.5 160.0L991.5 156.1L990.5 150.1L989.5 148.5L988.5 142.4L987.5 143.0L986.5 144.4L985.5 142.5L984.5 141.6L983.5 144.0L982.5 157.5L981.5 173.9L980.5 190.4L979.5 190.4L978.5 190.4L977.5 190.4L976.5 190.4L975.5 175.2L974.5 151.1L973.5 130.5L972.5 139.6L971.5 147.5L970.5 155.5L969.5 158.7L968.5 164.6L967.5 170.6L966.5 170.6L965.5 170.6L964.5 170.6L963.5 170.6L962.5 168.9L961.5 162.3L960.5 149.7L959.5 137.7L958.5 131.0L957.5 130.1L956.5 129.4L955.5 128.9L954.5 127.1L953.5 127.9L952.5 130.0L951.5 135.8L950.5 141.4L949.5 142.1L948.5 141.9L947.5 141.0L946.5 140.9L945.5 144.7L944.5 147.1L943.5 150.1L942.5 150.8L941.5 150.8L940.5 152.1L939.5 148.5L938.5 173.3L937.5 209.1L936.5 215.4L935.5 215.4L934.5 215.4L933.5 209.8L932.5 181.1L931.5 159.0L930.5 142.8L929.5 135.7L928.5 134.1L927.5 131.7L926.5 134.1L925.5 144.7L924.5 151.1L923.5 153.6L922.5 153.9L921.5 153.9L920.5 153.9L919.5 153.9L918.5 153.9L917.5 153.7L916.5 141.0L915.5 120.9L914.5 171.7L913.5 186.3L912.5 186.3L911.5 186.3L910.5 182.3L909.5 174.9L908.5 156.8L907.5 157.1L906.5 162.6L905.5 169.5L904.5 171.7L903.5 171.7L902.5 171.4L901.5 166.2L900.5 155.9L899.5 147.2L898.5 139.0L897.5 133.1L896.5 131.4L895.5 133.6L894.5 148.3L893.5 154.2L892.5 164.4L891.5 165.8L890.5 167.5L889.5 167.0L888.5 167.2L887.5 167.4L886.5 164.7L885.5 159.3L884.5 158.1L883.5 157.8L882.5 156.5L881.5 157.4L880.5 156.9L879.5 155.4L878.5 154.9L877.5 154.3L876.5 153.0L875.5 151.2L874.5 148.8L873.5 170.3L872.5 171.6L871.5 172.1L870.5 172.1L869.5 152.1L868.5 143.0L867.5 143.8L866.5 144.1L865.5 137.4L864.5 134.2L863.5 142.2L862.5 145.6L861.5 145.6L860.5 145.6L859.5 145.6L858.5 137.9L857.5 143.4L856.5 155.6L855.5 170.0L854.5 179.0L853.5 179.0L852.5 179.0L851.5 179.0L850.5 177.6L849.5 179.0L848.5 175.8L847.5 175.8L846.5 175.8L845.5 162.0L844.5 149.0L843.5 134.1L842.5 132.6L841.5 139.8L840.5 152.3L839.5 168.7L838.5 181.8L837.5 183.8L836.5 183.2L835.5 182.6L834.5 176.1L833.5 169.3L832.5 159.7L831.5 151.6L830.5 140.5L829.5 139.3L828.5 142.8L827.5 143.9L826.5 144.0L825.5 168.1L824.5 194.6L823.5 194.6L822.5 194.6L821.5 192.5L820.5 176.8L819.5 164.0L818.5 163.7L817.5 163.7L816.5 163.3L815.5 163.3L814.5 162.6L813.5 157.3L812.5 142.6L811.5 122.1L810.5 127.6L809.5 169.9L808.5 188.6L807.5 191.0L806.5 190.3L805.5 190.3L804.5 179.7L803.5 164.5L802.5 159.5L801.5 147.3L800.5 137.7L799.5 142.4L798.5 153.0L797.5 154.3L796.5 155.3L795.5 155.1L794.5 150.0L793.5 138.7L792.5 132.6L791.5 144.8L790.5 159.3L789.5 168.1L788.5 174.0L787.5 174.6L786.5 175.0L785.5 170.9L784.5 159.8L783.5 150.2L782.5 141.5L781.5 144.9L780.5 158.0L779.5 159.1L778.5 158.8L777.5 157.7L776.5 155.9L775.5 144.7L774.5 123.4L773.5 116.4L772.5 122.3L771.5 134.4L770.5 160.9L769.5 183.0L768.5 189.4L767.5 189.4L766.5 189.4L765.5 187.2L764.5 185.6L763.5 181.0L762.5 171.1L761.5 161.0L760.5 144.3L759.5 139.7L758.5 140.8L757.5 160.6L756.5 162.3L755.5 162.3L754.5 162.3L753.5 162.3L752.5 160.8L751.5 141.5L750.5 148.5L749.5 173.8L748.5 173.8L747.5 173.8L746.5 177.2L745.5 160.3L744.5 177.0L743.5 179.5L742.5 179.6L741.5 179.5L740.5 164.3L739.5 137.1L738.5 134.1L737.5 144.0L736.5 152.4L735.5 153.9L734.5 153.9L733.5 153.9L732.5 153.9L731.5 152.8L730.5 145.7L729.5 138.8L728.5 152.2L727.5 155.0L726.5 155.0L725.5 155.0L724.5 155.0L723.5 155.0L722.5 155.0L721.5 146.0L720.5 139.0L719.5 131.3L718.5 131.1L717.5 143.5L716.5 152.1L715.5 155.1L714.5 155.7L713.5 159.2L712.5 159.2L711.5 159.2L710.5 159.2L709.5 159.2L708.5 157.3L707.5 148.2L706.5 142.5L705.5 134.0L704.5 126.6L703.5 116.3L702.5 117.7L701.5 131.8L700.5 146.7L699.5 151.8L698.5 151.8L697.5 151.8L696.5 148.5L695.5 152.8L694.5 153.9L693.5 153.9L692.5 153.9L691.5 150.5L690.5 152.6L689.5 174.8L688.5 175.8L687.5 176.8L686.5 154.4L685.5 154.2L684.5 153.9L683.5 153.9L682.5 148.1L681.5 139.2L680.5 136.9L679.5 136.8L678.5 135.5L677.5 132.3L676.5 156.4L675.5 161.3L674.5 162.1L673.5 161.4L672.5 154.7L671.5 170.5L670.5 172.6L669.5 171.6L668.5 172.7L667.5 172.7L666.5 165.3L665.5 149.4L664.5 134.8L663.5 156.9L662.5 186.2L661.5 186.4L660.5 185.7L659.5 177.3L658.5 178.5L657.5 178.6L656.5 178.5L655.5 178.9L654.5 169.4L653.5 153.5L652.5 132.7L651.5 113.6L650.5 113.9L649.5 123.7L648.5 131.5L647.5 150.0L646.5 169.1L645.5 172.9L644.5 173.1L643.5 173.5L642.5 164.4L641.5 152.4L640.5 148.2L639.5 148.3L638.5 148.6L637.5 144.8L636.5 140.5L635.5 140.8L634.5 141.8L633.5 142.1L632.5 120.7L631.5 180.0L630.5 183.5L629.5 183.6L628.5 181.3L627.5 165.6L626.5 166.8L625.5 167.5L624.5 169.9L623.5 171.2L622.5 174.9L621.5 174.8L620.5 174.4L619.5 164.6L618.5 133.7L617.5 124.0L616.5 132.3L615.5 147.8L614.5 162.0L613.5 162.9L612.5 163.2L611.5 148.7L610.5 206.8L609.5 207.5L608.5 207.0L607.5 202.7L606.5 172.8L605.5 136.9L604.5 107.1L603.5 119.0L602.5 125.6L601.5 148.5L600.5 169.9L599.5 172.6L598.5 172.7L597.5 171.3L596.5 168.3L595.5 163.4L594.5 150.1L593.5 143.3L592.5 136.2L591.5 148.0L590.5 163.9L589.5 184.0L588.5 202.1L587.5 202.3L586.5 202.5L585.5 203.2L584.5 186.4L583.5 142.8L582.5 160.9L581.5 171.5L580.5 170.8L579.5 170.7L578.5 158.5L577.5 125.0L576.5 119.1L575.5 147.0L574.5 164.7L573.5 170.1L572.5 170.6L571.5 171.2L570.5 170.7L569.5 164.3L568.5 152.7L567.5 144.5L566.5 138.1L565.5 133.4L564.5 128.1L563.5 133.4L562.5 147.1L561.5 154.8L560.5 159.3L559.5 164.2L558.5 167.9L557.5 166.8L556.5 165.6L555.5 156.9L554.5 136.1L553.5 160.7L552.5 188.0L551.5 191.2L550.5 190.7L549.5 191.1L548.5 185.1L547.5 176.3L546.5 162.3L545.5 144.7L544.5 134.9L543.5 156.6L542.5 156.7L541.5 157.1L540.5 148.4L539.5 164.5L538.5 175.5L537.5 176.8L536.5 176.7L535.5 136.5L534.5 114.5L533.5 131.6L532.5 149.8L531.5 167.4L530.5 171.3L529.5 172.3L528.5 173.2L527.5 172.3L526.5 163.5L525.5 144.6L524.5 151.6L523.5 163.5L522.5 163.5L521.5 162.2L520.5 161.6L519.5 184.1L518.5 185.2L517.5 185.2L516.5 185.2L515.5 182.2L514.5 170.5L513.5 158.0L512.5 146.0L511.5 133.8L510.5 120.2L509.5 112.9L508.5 118.7L507.5 122.4L506.5 126.8L505.5 171.5L504.5 188.3L503.5 188.3L502.5 188.3L501.5 187.1L500.5 175.1L499.5 153.5L498.5 148.0L497.5 165.7L496.5 167.9L495.5 167.8L494.5 167.4L493.5 159.7L492.5 143.1L491.5 122.1L490.5 129.6L489.5 141.4L488.5 141.4L487.5 141.2L486.5 125.6L485.5 132.7L484.5 172.5L483.5 182.1L482.5 182.1L481.5 182.1L480.5 182.1L479.5 182.1L478.5 182.1L477.5 182.1L476.5 167.9L475.5 139.6L474.5 148.8L473.5 167.7L472.5 183.9L471.5 187.3L470.5 187.3L469.5 187.3L468.5 176.9L467.5 132.9L466.5 152.3L465.5 152.1L464.5 152.1L463.5 141.6L462.5 143.5L461.5 147.4L460.5 154.4L459.5 168.7L458.5 187.0L457.5 189.4L456.5 189.0L455.5 187.9L454.5 182.1L453.5 160.3L452.5 138.8L451.5 115.2L450.5 95.8L449.5 113.0L448.5 128.4L447.5 174.6L446.5 202.8L445.5 202.8L444.5 202.8L443.5 202.8L442.5 202.8L441.5 200.8L440.5 200.8L439.5 196.9L438.5 164.9L437.5 147.1L436.5 155.9L435.5 155.0L434.5 155.0L433.5 155.0L432.5 139.3L431.5 109.0L430.5 118.6L429.5 127.3L428.5 210.5L427.5 235.2L426.5 235.5L425.5 234.9L424.5 222.6L423.5 210.6L422.5 178.1L421.5 81.8L420.5 97.9L419.5 140.6L418.5 190.6L417.5 218.1L416.5 218.7L415.5 218.9L414.5 206.7L413.5 185.3L412.5 185.2L411.5 186.3L410.5 186.3L409.5 179.7L408.5 171.4L407.5 161.2L406.5 149.4L405.5 136.8L404.5 135.9L403.5 154.2L402.5 161.7L401.5 165.4L400.5 165.4L399.5 165.4L398.5 165.4L397.5 165.4L396.5 163.6L395.5 151.5L394.5 147.4L393.5 138.0L392.5 139.8L391.5 149.5L390.5 158.6L389.5 171.0L388.5 183.4L387.5 188.4L386.5 189.4L385.5 189.4L384.5 187.2L383.5 173.0L382.5 150.4L381.5 129.7L380.5 133.2L379.5 135.9L378.5 139.4L377.5 139.6L376.5 140.0L375.5 151.5L374.5 180.8L373.5 181.6L372.5 181.2L371.5 180.0L370.5 165.9L369.5 158.5L368.5 150.6L367.5 137.0L366.5 138.8L365.5 138.5L364.5 139.2L363.5 123.8L362.5 124.1L361.5 152.7L360.5 179.8L359.5 194.3L358.5 196.7L357.5 197.3L356.5 195.9L355.5 178.8L354.5 191.5L353.5 214.5L352.5 213.7L351.5 213.2L350.5 204.1L349.5 159.2L348.5 172.2L347.5 173.6L346.5 173.4L345.5 169.9L344.5 159.0L343.5 142.1L342.5 122.8L341.5 129.9L340.5 139.3L339.5 147.8L338.5 152.5L337.5 153.6L336.5 157.1L335.5 155.7L334.5 156.2L333.5 153.8L332.5 165.6L331.5 172.7L330.5 172.7L329.5 172.7L328.5 168.8L327.5 135.1L326.5 126.7L325.5 127.3L324.5 127.3L323.5 129.6L322.5 137.2L321.5 138.5L320.5 139.9L319.5 147.6L318.5 165.8L317.5 179.7L316.5 189.5L315.5 188.9L314.5 188.5L313.5 181.2L312.5 181.2L311.5 183.7L310.5 183.2L309.5 184.1L308.5 188.2L307.5 188.0L306.5 187.9L305.5 150.5L304.5 155.6L303.5 156.0L302.5 156.0L301.5 156.0L300.5 135.4L299.5 110.4L298.5 131.5L297.5 143.3L296.5 145.3L295.5 145.4L294.5 145.0L293.5 164.8L292.5 175.4L291.5 175.2L290.5 175.7L289.5 168.6L288.5 190.0L287.5 197.0L286.5 197.3L285.5 195.6L284.5 186.6L283.5 166.7L282.5 145.6L281.5 127.9L280.5 114.2L279.5 126.9L278.5 127.8L277.5 127.6L276.5 163.1L275.5 166.1L274.5 165.0L273.5 164.5L272.5 186.6L271.5 189.4L270.5 189.4L269.5 189.4L268.5 181.7L267.5 160.3L266.5 139.6L265.5 121.7L264.5 147.8L263.5 147.6L262.5 148.8L261.5 140.5L260.5 138.6L259.5 138.5L258.5 136.4L257.5 135.9L256.5 159.1L255.5 180.2L254.5 194.6L253.5 194.6L252.5 194.6L251.5 194.6L250.5 180.2L249.5 152.6L248.5 135.6L247.5 134.3L246.5 143.7L245.5 147.7L244.5 147.7L243.5 148.8L242.5 147.4L241.5 145.6L240.5 161.7L239.5 170.7L238.5 171.6L237.5 171.4L236.5 170.4L235.5 156.7L234.5 141.9L233.5 164.6L232.5 170.6L231.5 169.9L230.5 169.3L229.5 165.3L228.5 142.4L227.5 114.1L226.5 125.9L225.5 145.3L224.5 146.0L223.5 145.7L222.5 133.2L221.5 115.2L220.5 141.0L219.5 164.0L218.5 181.9L217.5 182.7L216.5 181.9L215.5 182.3L214.5 171.6L213.5 158.7L212.5 134.9L211.5 116.5L210.5 134.8L209.5 155.8L208.5 158.8L207.5 159.5L206.5 158.9L205.5 155.0L204.5 146.6L203.5 135.5L202.5 124.9L201.5 142.1L200.5 160.4L199.5 168.9L198.5 168.2L197.5 169.1L196.5 152.9L195.5 104.3L194.5 130.4L193.5 176.8L192.5 191.6L192 191.6Z" fill="#000"/>
<path d="M192 49.5H1537M192 246.5H1537M192.5 49V247M1536.5 49V247M192 295.5H1537M192 885.5H1537M192.5 295V886M1536.5 295V886M192.5 247V252M192.5 886V891M416.5 247V252M416.5 886V891M640.5 247V252M640.5 886V891M864.5 247V252M864.5 886V891M1088.5 247V252M1088.5 886V891M1312.5 247V252M1312.5 886V891M1536.5 247V252M1536.5 886V891M187 79.5H192M187 111.5H192M187 143.5H192M187 174.5H192M187 206.5H192M187 238.5H192M187 295.5H192M187 885.5H192" stroke="#000" stroke-width="1" fill="none" shape-rendering="crispEdges"/>
<path d="M189 707.5H192M189 603.5H192M189 530.5H192M189 472.5H192M189 426.5H192M189 386.5H192M189 352.5H192M189 322.5H192" stroke="#000" stroke-width="1" fill="none" shape-rendering="crispEdges"/>
<g font-family="Liberation Sans, sans-serif" fill="#000" stroke="#000" stroke-width="2.2"><text transform="matrix(0.18913 0 0 0.17687 830.000 32.823)" font-size="100">Wavelet Transform 2019-01-01</text><text transform="matrix(0.12590 0 0 0.14124 189.000 265.859)" font-size="100">0</text><text transform="matrix(0.12590 0 0 0.14124 189.000 904.859)" font-size="100">0</text><text transform="matrix(0.12590 0 0 0.14124 410.000 265.859)" font-size="100">10</text><text transform="matrix(0.12590 0 0 0.14124 410.000 904.859)" font-size="100">10</text><text transform="matrix(0.14388 0 0 0.14124 632.000 265.859)" font-size="100">20</text><text transform="matrix(0.14388 0 0 0.14124 632.000 904.859)" font-size="100">20</text><text transform="matrix(0.13489 0 0 0.14124 856.000 265.859)" font-size="100">30</text><text transform="matrix(0.13489 0 0 0.14124 856.000 904.859)" font-size="100">30</text><text transform="matrix(0.13489 0 0 0.14124 1081.000 265.859)" font-size="100">40</text><text transform="matrix(0.13489 0 0 0.14124 1081.000 904.859)" font-size="100">40</text><text transform="matrix(0.13489 0 0 0.14124 1304.000 265.859)" font-size="100">50</text><text transform="matrix(0.13489 0 0 0.14124 1304.000 904.859)" font-size="100">50</text><text transform="matrix(0.14388 0 0 0.14124 1528.000 265.859)" font-size="100">60</text><text transform="matrix(0.14388 0 0 0.14124 1528.000 904.859)" font-size="100">60</text><text transform="matrix(0.13669 0 0 0.14124 161.000 84.859)" font-size="100">5.0</text><text transform="matrix(0.14388 0 0 0.14124 161.000 116.859)" font-size="100">2.5</text><text transform="matrix(0.13669 0 0 0.14124 162.000 148.859)" font-size="100">0.0</text><text transform="matrix(0.15198 0 0 0.14124 150.000 179.859)" font-size="100">−2.5</text><text transform="matrix(0.15704 0 0 0.14124 150.000 211.859)" font-size="100">−5.0</text><text transform="matrix(0.15198 0 0 0.14327 150.000 243.857)" font-size="100">−7.5</text><text transform="matrix(0.12590 0 0 0.14124 127.000 432.859)" font-size="100">6</text><text transform="matrix(0.10791 0 0 0.14535 153.000 433.000)" font-size="100">1</text><text transform="matrix(0.12590 0 0 0.14124 161.000 432.859)" font-size="100">0</text><text transform="matrix(0.07194 0 0 0.11628 178.000 428.000)" font-size="100">1</text><text transform="matrix(0.12590 0 0 0.14535 127.000 536.000)" font-size="100">4</text><text transform="matrix(0.10791 0 0 0.14535 153.000 536.000)" font-size="100">1</text><text transform="matrix(0.12590 0 0 0.14124 161.000 535.859)" font-size="100">0</text><text transform="matrix(0.07194 0 0 0.11628 178.000 531.000)" font-size="100">1</text><text transform="matrix(0.12590 0 0 0.14124 127.000 609.859)" font-size="100">3</text><text transform="matrix(0.10791 0 0 0.14535 153.000 610.000)" font-size="100">1</text><text transform="matrix(0.12590 0 0 0.14124 161.000 609.859)" font-size="100">0</text><text transform="matrix(0.07194 0 0 0.11628 178.000 605.000)" font-size="100">1</text><text transform="matrix(0.12590 0 0 0.14327 127.000 714.000)" font-size="100">2</text><text transform="matrix(0.10791 0 0 0.14535 153.000 714.000)" font-size="100">1</text><text transform="matrix(0.12590 0 0 0.14124 161.000 713.859)" font-size="100">0</text><text transform="matrix(0.07194 0 0 0.11628 178.000 709.000)" font-size="100">1</text><text transform="matrix(0.10791 0 0 0.14535 160.000 302.000)" font-size="100">1</text><text transform="matrix(0.12590 0 0 0.14124 167.000 301.859)" font-size="100">0</text><text transform="matrix(0.08993 0 0 0.11299 176.000 296.887)" font-size="100">0</text><text transform="matrix(0.10791 0 0 0.14535 152.000 892.000)" font-size="100">1</text><text transform="matrix(0.12590 0 0 0.14124 159.000 891.859)" font-size="100">0</text><text transform="matrix(0.07194 0 0 0.11628 176.000 887.000)" font-size="100">1</text><text transform="matrix(0 -0.13703 0.14327 0 138.857 172.000)" font-size="100">ΔP - Pa</text><text transform="matrix(0 -0.15192 0.15005 0 115.879 642.000)" font-size="100">Frequency [Hz]</text><text transform="matrix(0.15103 0 0 0.14966 824.000 924.850)" font-size="100">Time</text><text transform="matrix(0.16151 0 0 0.13934 868.000 924.102)" font-size="100">[min]</text></g>
<path d="M139.6 425.6L146.4 431.4M146.4 425.6L139.6 431.4" stroke="#000" stroke-width="1.15"/><rect x="170" y="424" width="6" height="1" fill="#000"/><path d="M139.6 528.6L146.4 534.4M146.4 528.6L139.6 534.4" stroke="#000" stroke-width="1.15"/><rect x="170" y="527" width="6" height="1" fill="#000"/><path d="M139.6 602.6L146.4 608.4M146.4 602.6L139.6 608.4" stroke="#000" stroke-width="1.15"/><rect x="170" y="601" width="6" height="1" fill="#000"/><path d="M139.6 706.6L146.4 712.4M146.4 706.6L139.6 712.4" stroke="#000" stroke-width="1.15"/><rect x="170" y="705" width="6" height="1" fill="#000"/><rect x="168" y="883" width="6" height="1" fill="#000"/>
</svg></body></html>
